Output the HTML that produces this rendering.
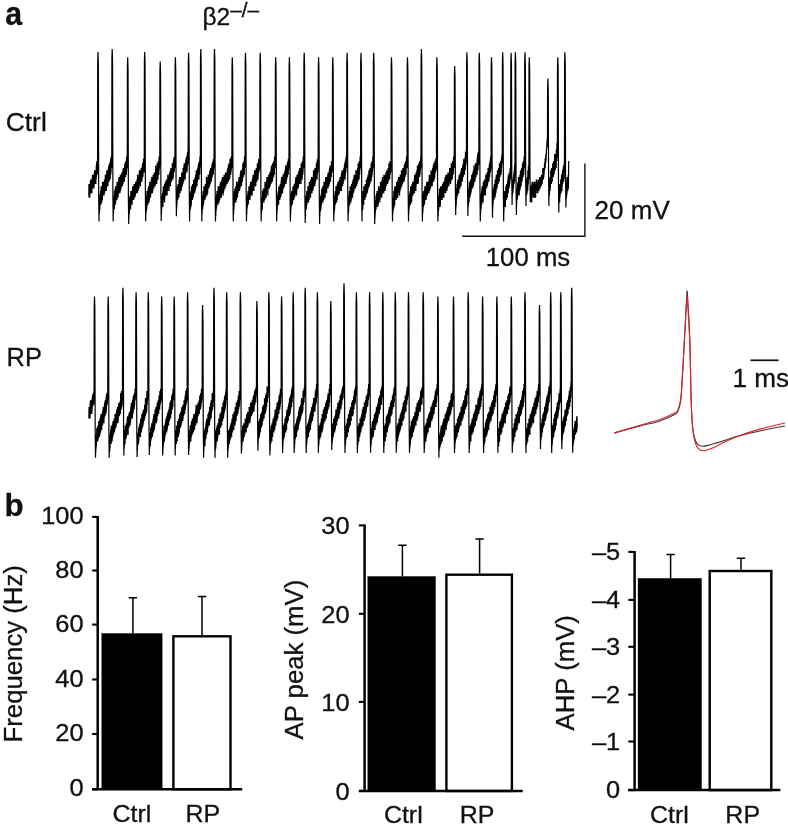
<!DOCTYPE html>
<html lang="en"><head><meta charset="utf-8"><title>Figure</title>
<style>html,body{margin:0;padding:0;background:#fff;width:788px;height:826px;overflow:hidden}svg{display:block}</style></head>
<body>
<svg width="788" height="826" viewBox="0 0 788 826" role="img" aria-label="Figure: firing traces and summary bar charts">
<rect width="788" height="826" fill="#fff"/>
<g font-family="'Liberation Sans', Arial, Helvetica, sans-serif" fill="#111" stroke="#111" stroke-width="0.3" style="filter:grayscale(1)">
<text transform="translate(5.3,25.2) scale(0.92,1.0)" font-size="33" text-anchor="start" font-weight="bold">a</text>
<text transform="translate(202.5,25.1) scale(1.065,1.0)" font-size="23" text-anchor="start">β2<tspan dy="-8.6" font-size="19.5">–/–</tspan></text>
<text transform="translate(5.7,131) scale(1.04,1.0)" font-size="25.4" text-anchor="start">Ctrl</text>
<text transform="translate(6.6,365.8) scale(1.0,1.0)" font-size="25.4" text-anchor="start">RP</text>
<text transform="translate(594.6,219) scale(1.04,1.0)" font-size="25" text-anchor="start">20 mV</text>
<text transform="translate(485.8,265.7) scale(1.03,1.0)" font-size="25" text-anchor="start">100 ms</text>
<text transform="translate(732.4,386.6) scale(1.045,1.0)" font-size="25" text-anchor="start">1 ms</text>
<text transform="translate(4.6,516.3) scale(0.95,0.94)" font-size="33" text-anchor="start" font-weight="bold">b</text>
</g>
<path d="M88.80,195.5 L88.94,184.0 L89.08,197.8 L89.22,186.3 L89.36,197.8 L89.51,186.3 L89.65,197.8 L89.79,186.3 L89.93,195.5 L90.07,184.0 L90.21,193.2 L90.35,181.7 L90.49,193.2 L90.63,179.4 L90.78,190.9 L90.92,179.4 L91.06,190.9 L91.20,179.4 L91.34,193.2 L91.48,181.7 L91.62,193.2 L91.76,181.7 L91.90,193.2 L92.05,179.4 L92.19,188.6 L92.33,177.1 L92.47,186.3 L92.61,174.8 L92.75,186.3 L92.89,174.8 L93.03,186.3 L93.17,174.8 L93.32,188.6 L93.46,177.1 L93.60,186.3 L93.74,177.1 L93.88,188.6 L94.02,174.8 L94.16,186.3 L94.30,172.5 L94.45,184.0 L94.59,170.2 L94.73,181.7 L94.87,170.2 L95.01,181.7 L95.15,170.2 L95.29,181.7 L95.43,170.2 L95.57,184.0 L95.72,170.2 L95.86,184.0 L96.00,170.2 L96.14,179.4 L96.28,165.6 L96.42,177.1 L96.56,163.3 L96.70,174.8 L96.84,161.0 L96.99,174.8 L97.13,161.0 L97.27,174.8 L97.41,163.3 L97.55,174.8 L97.70,61.9 L98.00,51.9 L98.35,63.9 L98.70,196.5 L99.00,221.5 L99.00,220.8 L99.14,209.3 L99.28,213.9 L99.42,200.1 L99.56,211.6 L99.70,197.8 L99.84,209.3 L99.98,195.5 L100.12,204.7 L100.26,193.2 L100.40,204.7 L100.54,190.9 L100.68,204.7 L100.82,190.9 L100.96,204.7 L101.10,186.3 L101.24,200.1 L101.38,186.3 L101.52,200.1 L101.66,188.6 L101.80,202.4 L101.94,188.6 L102.08,200.1 L102.22,186.3 L102.36,200.1 L102.50,181.7 L102.64,195.5 L102.78,181.7 L102.92,195.5 L103.06,181.7 L103.20,195.5 L103.34,184.0 L103.48,195.5 L103.62,184.0 L103.76,195.5 L103.90,181.7 L104.04,195.5 L104.18,181.7 L104.32,193.2 L104.46,179.4 L104.60,193.2 L104.74,179.4 L104.88,190.9 L105.02,179.4 L105.16,190.9 L105.30,174.8 L105.45,188.6 L105.59,177.1 L105.73,190.9 L105.87,177.1 L106.01,190.9 L106.15,177.1 L106.29,190.9 L106.43,174.8 L106.57,188.6 L106.71,170.2 L106.85,184.0 L106.99,170.2 L107.13,184.0 L107.27,172.5 L107.41,186.3 L107.55,172.5 L107.69,186.3 L107.83,172.5 L107.97,186.3 L108.11,170.2 L108.25,181.7 L108.39,167.9 L108.53,181.7 L108.67,165.6 L108.81,181.7 L108.95,167.9 L109.09,181.7 L109.23,167.9 L109.37,177.1 L109.51,163.3 L109.65,177.1 L109.79,165.6 L109.93,179.4 L110.07,163.3 L110.21,179.4 L110.35,161.0 L110.49,172.5 L110.63,158.7 L110.77,174.8 L110.91,158.7 L111.05,172.5 L111.19,156.4 L111.33,167.9 L111.47,158.7 L111.61,167.9 L111.75,161.0 L111.90,58.9 L112.20,48.9 L112.55,60.9 L112.90,196.5 L113.20,221.5 L113.20,220.8 L113.34,209.3 L113.48,213.9 L113.62,204.7 L113.76,209.3 L113.90,197.8 L114.04,209.3 L114.18,195.5 L114.32,209.3 L114.46,190.9 L114.61,204.7 L114.75,190.9 L114.89,202.4 L115.03,188.6 L115.17,202.4 L115.31,190.9 L115.45,204.7 L115.59,186.3 L115.73,202.4 L115.87,188.6 L116.01,200.1 L116.15,186.3 L116.29,200.1 L116.43,188.6 L116.57,200.1 L116.71,186.3 L116.85,200.1 L116.99,181.7 L117.13,195.5 L117.27,181.7 L117.42,197.8 L117.56,184.0 L117.70,197.8 L117.84,184.0 L117.98,197.8 L118.12,184.0 L118.26,195.5 L118.40,184.0 L118.54,193.2 L118.68,179.4 L118.82,193.2 L118.96,177.1 L119.10,190.9 L119.24,177.1 L119.38,190.9 L119.52,179.4 L119.66,190.9 L119.80,179.4 L119.94,193.2 L120.08,177.1 L120.22,190.9 L120.37,174.8 L120.51,190.9 L120.65,174.8 L120.79,188.6 L120.93,174.8 L121.07,188.6 L121.21,174.8 L121.35,186.3 L121.49,174.8 L121.63,184.0 L121.77,172.5 L121.91,186.3 L122.05,174.8 L122.19,186.3 L122.33,174.8 L122.47,186.3 L122.61,172.5 L122.75,184.0 L122.89,170.2 L123.03,184.0 L123.18,167.9 L123.32,181.7 L123.46,167.9 L123.60,181.7 L123.74,167.9 L123.88,181.7 L124.02,167.9 L124.16,181.7 L124.30,167.9 L124.44,181.7 L124.58,165.6 L124.72,177.1 L124.86,163.3 L125.00,177.1 L125.14,163.3 L125.28,177.1 L125.42,163.3 L125.56,177.1 L125.70,161.0 L125.84,172.5 L125.99,161.0 L126.13,174.8 L126.27,163.3 L126.41,174.8 L126.55,156.4 L126.69,170.2 L126.83,156.4 L126.97,167.9 L127.11,158.7 L127.25,167.9 L127.40,67.3 L127.70,57.3 L128.05,69.3 L128.40,199.0 L128.70,224.0 L128.70,223.1 L128.84,211.6 L128.98,218.5 L129.12,204.7 L129.26,213.9 L129.40,200.1 L129.54,211.6 L129.68,197.8 L129.82,207.0 L129.96,195.5 L130.10,209.3 L130.24,195.5 L130.38,209.3 L130.52,195.5 L130.66,209.3 L130.80,190.9 L130.94,202.4 L131.08,190.9 L131.22,202.4 L131.36,190.9 L131.50,204.7 L131.64,190.9 L131.78,204.7 L131.92,190.9 L132.06,204.7 L132.20,193.2 L132.34,200.1 L132.48,188.6 L132.62,200.1 L132.76,186.3 L132.90,200.1 L133.04,186.3 L133.18,197.8 L133.32,186.3 L133.46,200.1 L133.60,186.3 L133.74,200.1 L133.88,188.6 L134.02,197.8 L134.16,184.0 L134.30,197.8 L134.44,184.0 L134.58,195.5 L134.72,184.0 L134.86,197.8 L135.00,184.0 L135.14,195.5 L135.28,184.0 L135.42,195.5 L135.56,181.7 L135.70,193.2 L135.84,181.7 L135.98,193.2 L136.12,181.7 L136.26,193.2 L136.40,181.7 L136.55,193.2 L136.69,181.7 L136.83,193.2 L136.97,179.4 L137.11,190.9 L137.25,179.4 L137.39,193.2 L137.53,174.8 L137.67,190.9 L137.81,177.1 L137.95,188.6 L138.09,177.1 L138.23,190.9 L138.37,177.1 L138.51,188.6 L138.65,177.1 L138.79,188.6 L138.93,174.8 L139.07,188.6 L139.21,172.5 L139.35,184.0 L139.49,170.2 L139.63,184.0 L139.77,170.2 L139.91,184.0 L140.05,172.5 L140.19,184.0 L140.33,174.8 L140.47,186.3 L140.61,172.5 L140.75,181.7 L140.89,170.2 L141.03,179.4 L141.17,167.9 L141.31,179.4 L141.45,167.9 L141.59,179.4 L141.73,167.9 L141.87,181.7 L142.01,167.9 L142.15,179.4 L142.29,165.6 L142.43,177.1 L142.57,163.3 L142.71,177.1 L142.85,165.6 L142.99,177.1 L143.13,163.3 L143.27,172.5 L143.41,158.7 L143.55,172.5 L143.69,158.7 L143.83,172.5 L143.97,161.0 L144.11,172.5 L144.25,163.3 L144.40,61.9 L144.70,51.9 L145.05,63.9 L145.40,196.5 L145.70,221.5 L145.70,220.8 L145.84,209.3 L145.98,213.9 L146.12,204.7 L146.26,211.6 L146.40,197.8 L146.54,209.3 L146.68,195.5 L146.82,209.3 L146.96,190.9 L147.10,204.7 L147.25,190.9 L147.39,204.7 L147.53,190.9 L147.67,202.4 L147.81,190.9 L147.95,204.7 L148.09,188.6 L148.23,200.1 L148.37,188.6 L148.51,202.4 L148.65,186.3 L148.79,200.1 L148.93,186.3 L149.07,202.4 L149.21,186.3 L149.35,200.1 L149.49,184.0 L149.63,195.5 L149.77,181.7 L149.91,197.8 L150.06,184.0 L150.20,197.8 L150.34,186.3 L150.48,197.8 L150.62,184.0 L150.76,195.5 L150.90,184.0 L151.04,190.9 L151.18,179.4 L151.32,193.2 L151.46,179.4 L151.60,190.9 L151.74,177.1 L151.88,193.2 L152.02,179.4 L152.16,193.2 L152.30,181.7 L152.44,193.2 L152.58,177.1 L152.72,190.9 L152.87,177.1 L153.01,188.6 L153.15,174.8 L153.29,188.6 L153.43,174.8 L153.57,188.6 L153.71,174.8 L153.85,188.6 L153.99,174.8 L154.13,184.0 L154.27,172.5 L154.41,186.3 L154.55,172.5 L154.69,186.3 L154.83,172.5 L154.97,184.0 L155.11,172.5 L155.25,186.3 L155.39,172.5 L155.53,184.0 L155.68,165.6 L155.82,181.7 L155.96,167.9 L156.10,181.7 L156.24,167.9 L156.38,181.7 L156.52,170.2 L156.66,184.0 L156.80,170.2 L156.94,181.7 L157.08,163.3 L157.22,177.1 L157.36,165.6 L157.50,177.1 L157.64,163.3 L157.78,177.1 L157.92,165.6 L158.06,179.4 L158.20,161.0 L158.34,174.8 L158.49,161.0 L158.63,174.8 L158.77,161.0 L158.91,174.8 L159.05,156.4 L159.19,170.2 L159.33,156.4 L159.47,167.9 L159.61,158.7 L159.75,165.6 L159.90,71.6 L160.20,61.6 L160.55,73.6 L160.90,196.0 L161.20,221.0 L161.20,220.8 L161.34,207.0 L161.48,213.9 L161.62,202.4 L161.76,209.3 L161.90,197.8 L162.04,207.0 L162.18,195.5 L162.32,204.7 L162.46,193.2 L162.60,204.7 L162.74,193.2 L162.88,207.0 L163.02,190.9 L163.16,202.4 L163.30,186.3 L163.44,197.8 L163.59,186.3 L163.73,200.1 L163.87,186.3 L164.01,200.1 L164.15,186.3 L164.29,200.1 L164.43,186.3 L164.57,202.4 L164.71,184.0 L164.85,197.8 L164.99,184.0 L165.13,195.5 L165.27,181.7 L165.41,195.5 L165.55,181.7 L165.69,195.5 L165.83,184.0 L165.97,195.5 L166.11,184.0 L166.25,193.2 L166.39,179.4 L166.53,193.2 L166.67,181.7 L166.81,193.2 L166.95,181.7 L167.09,195.5 L167.23,179.4 L167.37,190.9 L167.51,179.4 L167.65,190.9 L167.79,174.8 L167.93,188.6 L168.07,174.8 L168.22,188.6 L168.36,177.1 L168.50,188.6 L168.64,177.1 L168.78,188.6 L168.92,177.1 L169.06,190.9 L169.20,177.1 L169.34,184.0 L169.48,172.5 L169.62,184.0 L169.76,172.5 L169.90,184.0 L170.04,172.5 L170.18,186.3 L170.32,170.2 L170.46,186.3 L170.60,172.5 L170.74,181.7 L170.88,167.9 L171.02,181.7 L171.16,167.9 L171.30,179.4 L171.44,167.9 L171.58,181.7 L171.72,167.9 L171.86,179.4 L172.00,167.9 L172.14,179.4 L172.28,163.3 L172.42,177.1 L172.56,165.6 L172.71,179.4 L172.85,165.6 L172.99,179.4 L173.13,163.3 L173.27,177.1 L173.41,161.0 L173.55,172.5 L173.69,158.7 L173.83,172.5 L173.97,161.0 L174.11,172.5 L174.25,156.4 L174.39,170.2 L174.53,158.7 L174.67,167.9 L174.81,158.7 L174.95,167.9 L175.10,67.3 L175.40,57.3 L175.75,69.3 L176.10,191.0 L176.40,216.0 L176.40,216.2 L176.54,202.4 L176.68,209.3 L176.82,195.5 L176.97,204.7 L177.11,193.2 L177.25,200.1 L177.39,186.3 L177.53,200.1 L177.67,186.3 L177.82,200.1 L177.96,184.0 L178.10,195.5 L178.24,184.0 L178.38,197.8 L178.52,184.0 L178.67,197.8 L178.81,184.0 L178.95,197.8 L179.09,179.4 L179.23,193.2 L179.37,181.7 L179.51,193.2 L179.66,177.1 L179.80,190.9 L179.94,179.4 L180.08,193.2 L180.22,177.1 L180.36,190.9 L180.51,177.1 L180.65,188.6 L180.79,177.1 L180.93,188.6 L181.07,177.1 L181.21,190.9 L181.35,177.1 L181.50,188.6 L181.64,172.5 L181.78,184.0 L181.92,172.5 L182.06,184.0 L182.20,172.5 L182.35,186.3 L182.49,172.5 L182.63,184.0 L182.77,172.5 L182.91,184.0 L183.05,167.9 L183.20,181.7 L183.34,167.9 L183.48,181.7 L183.62,167.9 L183.76,181.7 L183.90,165.6 L184.04,179.4 L184.19,163.3 L184.33,174.8 L184.47,165.6 L184.61,179.4 L184.75,163.3 L184.89,179.4 L185.04,165.6 L185.18,179.4 L185.32,163.3 L185.46,174.8 L185.60,161.0 L185.74,172.5 L185.88,158.7 L186.03,172.5 L186.17,161.0 L186.31,172.5 L186.45,156.4 L186.59,170.2 L186.73,158.7 L186.88,172.5 L187.02,158.7 L187.16,170.2 L187.30,154.1 L187.44,165.6 L187.58,151.8 L187.73,165.6 L187.87,154.1 L188.01,163.3 L188.15,154.1 L188.30,62.7 L188.60,52.7 L188.95,64.7 L189.30,196.5 L189.60,221.5 L189.60,220.8 L189.74,207.0 L189.88,211.6 L190.02,197.8 L190.17,207.0 L190.31,193.2 L190.45,209.3 L190.59,193.2 L190.73,204.7 L190.87,190.9 L191.01,207.0 L191.16,190.9 L191.30,204.7 L191.44,186.3 L191.58,197.8 L191.72,188.6 L191.86,197.8 L192.00,186.3 L192.15,200.1 L192.29,186.3 L192.43,200.1 L192.57,184.0 L192.71,195.5 L192.85,184.0 L192.99,197.8 L193.14,184.0 L193.28,197.8 L193.42,184.0 L193.56,195.5 L193.70,179.4 L193.84,193.2 L193.98,179.4 L194.13,190.9 L194.27,179.4 L194.41,193.2 L194.55,179.4 L194.69,193.2 L194.83,181.7 L194.98,190.9 L195.12,177.1 L195.26,190.9 L195.40,177.1 L195.54,188.6 L195.68,174.8 L195.82,188.6 L195.97,174.8 L196.11,184.0 L196.25,170.2 L196.39,184.0 L196.53,170.2 L196.67,186.3 L196.81,172.5 L196.96,186.3 L197.10,172.5 L197.24,181.7 L197.38,170.2 L197.52,181.7 L197.66,167.9 L197.80,179.4 L197.95,167.9 L198.09,179.4 L198.23,165.6 L198.37,177.1 L198.51,163.3 L198.65,177.1 L198.79,163.3 L198.94,179.4 L199.08,165.6 L199.22,174.8 L199.36,161.0 L199.50,174.8 L199.64,161.0 L199.78,174.8 L199.93,156.4 L200.07,167.9 L200.21,156.4 L200.35,165.6 L200.50,58.9 L200.80,48.9 L201.15,60.9 L201.50,196.5 L201.80,221.5 L201.80,220.8 L201.94,209.3 L202.08,213.9 L202.22,200.1 L202.36,209.3 L202.50,195.5 L202.64,209.3 L202.79,195.5 L202.93,207.0 L203.07,190.9 L203.21,204.7 L203.35,190.9 L203.49,204.7 L203.63,190.9 L203.77,202.4 L203.91,186.3 L204.05,197.8 L204.19,186.3 L204.33,197.8 L204.48,186.3 L204.62,200.1 L204.76,188.6 L204.90,200.1 L205.04,188.6 L205.18,197.8 L205.32,184.0 L205.46,197.8 L205.60,184.0 L205.74,197.8 L205.88,184.0 L206.02,195.5 L206.16,184.0 L206.31,195.5 L206.45,177.1 L206.59,193.2 L206.73,179.4 L206.87,193.2 L207.01,179.4 L207.15,195.5 L207.29,179.4 L207.43,193.2 L207.57,179.4 L207.71,193.2 L207.85,177.1 L208.00,186.3 L208.14,174.8 L208.28,186.3 L208.42,174.8 L208.56,188.6 L208.70,174.8 L208.84,188.6 L208.98,174.8 L209.12,186.3 L209.26,174.8 L209.40,186.3 L209.54,172.5 L209.69,186.3 L209.83,170.2 L209.97,184.0 L210.11,172.5 L210.25,184.0 L210.39,170.2 L210.53,179.4 L210.67,167.9 L210.81,181.7 L210.95,170.2 L211.09,181.7 L211.23,170.2 L211.37,181.7 L211.52,167.9 L211.66,179.4 L211.80,165.6 L211.94,177.1 L212.08,163.3 L212.22,177.1 L212.36,163.3 L212.50,174.8 L212.64,165.6 L212.78,174.8 L212.92,161.0 L213.06,174.8 L213.21,161.0 L213.35,174.8 L213.49,158.7 L213.63,170.2 L213.77,158.7 L213.91,167.9 L214.05,158.7 L214.20,58.9 L214.50,48.9 L214.85,60.9 L215.20,196.5 L215.50,221.5 L215.50,220.8 L215.64,209.3 L215.78,216.2 L215.92,204.7 L216.06,211.6 L216.20,197.8 L216.35,209.3 L216.49,195.5 L216.63,207.0 L216.77,193.2 L216.91,204.7 L217.05,190.9 L217.19,204.7 L217.33,193.2 L217.47,204.7 L217.61,193.2 L217.76,204.7 L217.90,190.9 L218.04,204.7 L218.18,186.3 L218.32,197.8 L218.46,186.3 L218.60,200.1 L218.74,186.3 L218.88,200.1 L219.02,186.3 L219.16,202.4 L219.31,188.6 L219.45,200.1 L219.59,188.6 L219.73,200.1 L219.87,188.6 L220.01,197.8 L220.15,184.0 L220.29,195.5 L220.43,181.7 L220.57,195.5 L220.72,181.7 L220.86,195.5 L221.00,184.0 L221.14,197.8 L221.28,184.0 L221.42,197.8 L221.56,184.0 L221.70,193.2 L221.84,179.4 L221.98,193.2 L222.12,179.4 L222.27,190.9 L222.41,177.1 L222.55,190.9 L222.69,179.4 L222.83,193.2 L222.97,177.1 L223.11,195.5 L223.25,179.4 L223.39,193.2 L223.53,177.1 L223.68,190.9 L223.82,177.1 L223.96,190.9 L224.10,174.8 L224.24,186.3 L224.38,174.8 L224.52,186.3 L224.66,174.8 L224.80,188.6 L224.94,174.8 L225.08,188.6 L225.23,177.1 L225.37,186.3 L225.51,172.5 L225.65,186.3 L225.79,172.5 L225.93,186.3 L226.07,172.5 L226.21,184.0 L226.35,172.5 L226.49,184.0 L226.63,172.5 L226.78,184.0 L226.92,172.5 L227.06,184.0 L227.20,170.2 L227.34,181.7 L227.48,170.2 L227.62,181.7 L227.76,167.9 L227.90,181.7 L228.04,170.2 L228.19,179.4 L228.33,165.6 L228.47,181.7 L228.61,167.9 L228.75,177.1 L228.89,163.3 L229.03,177.1 L229.17,163.3 L229.31,177.1 L229.45,165.6 L229.59,179.4 L229.74,165.6 L229.88,177.1 L230.02,158.7 L230.16,172.5 L230.30,158.7 L230.44,174.8 L230.58,161.0 L230.72,174.8 L230.86,161.0 L231.00,172.5 L231.15,156.4 L231.29,170.2 L231.43,158.7 L231.57,167.9 L231.71,161.0 L231.85,167.9 L232.00,67.3 L232.30,57.3 L232.65,69.3 L233.00,196.5 L233.30,221.5 L233.30,220.8 L233.44,209.3 L233.58,213.9 L233.72,202.4 L233.87,209.3 L234.01,195.5 L234.15,207.0 L234.29,190.9 L234.43,202.4 L234.57,190.9 L234.72,202.4 L234.86,188.6 L235.00,202.4 L235.14,193.2 L235.28,200.1 L235.42,188.6 L235.57,202.4 L235.71,186.3 L235.85,202.4 L235.99,188.6 L236.13,200.1 L236.27,188.6 L236.41,200.1 L236.56,181.7 L236.70,195.5 L236.84,184.0 L236.98,195.5 L237.12,184.0 L237.26,195.5 L237.41,186.3 L237.55,197.8 L237.69,184.0 L237.83,193.2 L237.97,181.7 L238.11,193.2 L238.25,181.7 L238.40,190.9 L238.54,179.4 L238.68,190.9 L238.82,179.4 L238.96,190.9 L239.10,177.1 L239.25,188.6 L239.39,177.1 L239.53,190.9 L239.67,177.1 L239.81,188.6 L239.95,177.1 L240.10,188.6 L240.24,174.8 L240.38,184.0 L240.52,172.5 L240.66,184.0 L240.80,170.2 L240.94,186.3 L241.09,170.2 L241.23,186.3 L241.37,170.2 L241.51,186.3 L241.65,170.2 L241.79,181.7 L241.94,170.2 L242.08,181.7 L242.22,170.2 L242.36,181.7 L242.50,167.9 L242.64,179.4 L242.78,163.3 L242.93,177.1 L243.07,165.6 L243.21,177.1 L243.35,165.6 L243.49,177.1 L243.63,165.6 L243.78,174.8 L243.92,161.0 L244.06,174.8 L244.20,161.0 L244.34,174.8 L244.48,156.4 L244.63,167.9 L244.77,156.4 L244.91,167.9 L245.05,158.7 L245.20,62.7 L245.50,52.7 L245.85,64.7 L246.20,196.5 L246.50,221.5 L246.50,220.8 L246.64,207.0 L246.78,213.9 L246.92,202.4 L247.06,209.3 L247.20,197.8 L247.35,207.0 L247.49,195.5 L247.63,204.7 L247.77,193.2 L247.91,204.7 L248.05,190.9 L248.19,204.7 L248.33,190.9 L248.47,202.4 L248.61,190.9 L248.76,200.1 L248.90,186.3 L249.04,200.1 L249.18,186.3 L249.32,200.1 L249.46,188.6 L249.60,200.1 L249.74,188.6 L249.88,200.1 L250.02,188.6 L250.16,197.8 L250.31,184.0 L250.45,195.5 L250.59,181.7 L250.73,195.5 L250.87,181.7 L251.01,195.5 L251.15,181.7 L251.29,195.5 L251.43,184.0 L251.57,193.2 L251.72,181.7 L251.86,193.2 L252.00,181.7 L252.14,195.5 L252.28,179.4 L252.42,190.9 L252.56,179.4 L252.70,190.9 L252.84,177.1 L252.98,188.6 L253.12,174.8 L253.27,188.6 L253.41,174.8 L253.55,190.9 L253.69,177.1 L253.83,190.9 L253.97,177.1 L254.11,188.6 L254.25,177.1 L254.39,186.3 L254.53,170.2 L254.68,184.0 L254.82,170.2 L254.96,184.0 L255.10,170.2 L255.24,184.0 L255.38,172.5 L255.52,186.3 L255.66,172.5 L255.80,186.3 L255.94,170.2 L256.09,181.7 L256.23,167.9 L256.37,179.4 L256.51,167.9 L256.65,181.7 L256.79,167.9 L256.93,181.7 L257.07,167.9 L257.21,177.1 L257.35,163.3 L257.49,179.4 L257.64,165.6 L257.78,179.4 L257.92,165.6 L258.06,179.4 L258.20,165.6 L258.34,174.8 L258.48,161.0 L258.62,172.5 L258.76,158.7 L258.90,172.5 L259.05,161.0 L259.19,170.2 L259.33,158.7 L259.47,170.2 L259.61,161.0 L259.75,167.9 L259.90,62.7 L260.20,52.7 L260.55,64.7 L260.90,196.5 L261.20,221.5 L261.20,220.8 L261.34,209.3 L261.48,213.9 L261.62,202.4 L261.76,211.6 L261.90,197.8 L262.04,209.3 L262.18,197.8 L262.32,209.3 L262.46,190.9 L262.61,202.4 L262.75,190.9 L262.89,202.4 L263.03,190.9 L263.17,202.4 L263.31,188.6 L263.45,202.4 L263.59,188.6 L263.73,200.1 L263.87,188.6 L264.01,202.4 L264.15,188.6 L264.29,200.1 L264.43,188.6 L264.57,200.1 L264.71,188.6 L264.85,200.1 L264.99,181.7 L265.13,195.5 L265.27,181.7 L265.41,197.8 L265.56,184.0 L265.70,197.8 L265.84,184.0 L265.98,197.8 L266.12,184.0 L266.26,197.8 L266.40,184.0 L266.54,193.2 L266.68,179.4 L266.82,193.2 L266.96,177.1 L267.10,190.9 L267.24,179.4 L267.38,190.9 L267.52,179.4 L267.66,193.2 L267.80,181.7 L267.94,195.5 L268.08,177.1 L268.23,188.6 L268.37,177.1 L268.51,188.6 L268.65,174.8 L268.79,186.3 L268.93,174.8 L269.07,188.6 L269.21,174.8 L269.35,188.6 L269.49,174.8 L269.63,186.3 L269.77,172.5 L269.91,186.3 L270.05,172.5 L270.19,186.3 L270.33,172.5 L270.47,184.0 L270.61,172.5 L270.75,184.0 L270.89,170.2 L271.03,184.0 L271.18,167.9 L271.32,179.4 L271.46,165.6 L271.60,181.7 L271.74,167.9 L271.88,181.7 L272.02,170.2 L272.16,181.7 L272.30,167.9 L272.44,181.7 L272.58,163.3 L272.72,179.4 L272.86,165.6 L273.00,177.1 L273.14,163.3 L273.28,177.1 L273.42,165.6 L273.56,177.1 L273.70,161.0 L273.85,174.8 L273.99,161.0 L274.13,174.8 L274.27,163.3 L274.41,174.8 L274.55,156.4 L274.69,167.9 L274.83,156.4 L274.97,167.9 L275.11,158.7 L275.25,165.6 L275.40,67.3 L275.70,57.3 L276.05,69.3 L276.40,196.5 L276.70,221.5 L276.70,220.8 L276.84,209.3 L276.98,213.9 L277.12,200.1 L277.26,209.3 L277.40,195.5 L277.54,207.0 L277.69,195.5 L277.83,204.7 L277.97,193.2 L278.11,204.7 L278.25,190.9 L278.39,204.7 L278.53,193.2 L278.67,204.7 L278.81,186.3 L278.95,197.8 L279.09,186.3 L279.23,200.1 L279.38,186.3 L279.52,200.1 L279.66,186.3 L279.80,200.1 L279.94,188.6 L280.08,197.8 L280.22,184.0 L280.36,197.8 L280.50,184.0 L280.64,197.8 L280.78,184.0 L280.92,195.5 L281.06,181.7 L281.21,195.5 L281.35,179.4 L281.49,193.2 L281.63,177.1 L281.77,193.2 L281.91,179.4 L282.05,193.2 L282.19,179.4 L282.33,193.2 L282.47,181.7 L282.61,193.2 L282.75,177.1 L282.90,188.6 L283.04,174.8 L283.18,188.6 L283.32,174.8 L283.46,186.3 L283.60,177.1 L283.74,188.6 L283.88,174.8 L284.02,184.0 L284.16,172.5 L284.30,186.3 L284.44,174.8 L284.59,186.3 L284.73,172.5 L284.87,184.0 L285.01,170.2 L285.15,184.0 L285.29,170.2 L285.43,179.4 L285.57,165.6 L285.71,179.4 L285.85,167.9 L285.99,184.0 L286.13,167.9 L286.27,181.7 L286.42,170.2 L286.56,177.1 L286.70,165.6 L286.84,179.4 L286.98,165.6 L287.12,174.8 L287.26,163.3 L287.40,177.1 L287.54,163.3 L287.68,172.5 L287.82,161.0 L287.96,174.8 L288.11,161.0 L288.25,174.8 L288.39,158.7 L288.53,170.2 L288.67,158.7 L288.81,167.9 L288.95,158.7 L289.10,67.3 L289.40,57.3 L289.75,69.3 L290.10,196.5 L290.40,221.5 L290.40,220.8 L290.54,209.3 L290.68,213.9 L290.82,202.4 L290.96,209.3 L291.10,195.5 L291.24,207.0 L291.38,193.2 L291.52,202.4 L291.66,190.9 L291.81,204.7 L291.95,190.9 L292.09,204.7 L292.23,190.9 L292.37,204.7 L292.51,193.2 L292.65,202.4 L292.79,188.6 L292.93,200.1 L293.07,186.3 L293.21,200.1 L293.35,186.3 L293.49,197.8 L293.63,186.3 L293.77,200.1 L293.91,186.3 L294.05,197.8 L294.19,184.0 L294.33,197.8 L294.48,184.0 L294.62,197.8 L294.76,184.0 L294.90,195.5 L295.04,184.0 L295.18,195.5 L295.32,181.7 L295.46,190.9 L295.60,179.4 L295.74,193.2 L295.88,177.1 L296.02,193.2 L296.16,179.4 L296.30,193.2 L296.44,181.7 L296.58,195.5 L296.72,181.7 L296.86,190.9 L297.00,174.8 L297.15,188.6 L297.29,174.8 L297.43,188.6 L297.57,174.8 L297.71,186.3 L297.85,174.8 L297.99,188.6 L298.13,174.8 L298.27,188.6 L298.41,172.5 L298.55,186.3 L298.69,174.8 L298.83,184.0 L298.97,170.2 L299.11,184.0 L299.25,170.2 L299.39,184.0 L299.53,172.5 L299.67,184.0 L299.82,167.9 L299.96,179.4 L300.10,167.9 L300.24,181.7 L300.38,170.2 L300.52,181.7 L300.66,170.2 L300.80,181.7 L300.94,170.2 L301.08,184.0 L301.22,163.3 L301.36,177.1 L301.50,163.3 L301.64,177.1 L301.78,163.3 L301.92,177.1 L302.06,165.6 L302.20,179.4 L302.34,161.0 L302.49,174.8 L302.63,161.0 L302.77,174.8 L302.91,161.0 L303.05,172.5 L303.19,156.4 L303.33,167.9 L303.47,158.7 L303.61,167.9 L303.75,158.7 L303.90,62.7 L304.20,52.7 L304.55,64.7 L304.90,198.0 L305.20,223.0 L305.20,220.8 L305.34,211.6 L305.48,216.2 L305.62,202.4 L305.76,209.3 L305.90,197.8 L306.04,207.0 L306.19,195.5 L306.33,209.3 L306.47,195.5 L306.61,204.7 L306.75,190.9 L306.89,204.7 L307.03,190.9 L307.17,202.4 L307.31,190.9 L307.45,202.4 L307.59,190.9 L307.73,202.4 L307.87,186.3 L308.02,200.1 L308.16,188.6 L308.30,202.4 L308.44,188.6 L308.58,202.4 L308.72,188.6 L308.86,200.1 L309.00,186.3 L309.14,200.1 L309.28,181.7 L309.42,195.5 L309.56,184.0 L309.70,195.5 L309.85,181.7 L309.99,195.5 L310.13,184.0 L310.27,195.5 L310.41,184.0 L310.55,197.8 L310.69,179.4 L310.83,193.2 L310.97,179.4 L311.11,190.9 L311.25,179.4 L311.39,190.9 L311.53,177.1 L311.68,190.9 L311.82,179.4 L311.96,193.2 L312.10,177.1 L312.24,190.9 L312.38,177.1 L312.52,190.9 L312.66,177.1 L312.80,190.9 L312.94,177.1 L313.08,188.6 L313.22,177.1 L313.36,188.6 L313.50,170.2 L313.65,184.0 L313.79,170.2 L313.93,184.0 L314.07,170.2 L314.21,184.0 L314.35,174.8 L314.49,186.3 L314.63,172.5 L314.77,186.3 L314.91,167.9 L315.05,184.0 L315.19,167.9 L315.33,181.7 L315.48,167.9 L315.62,181.7 L315.76,167.9 L315.90,179.4 L316.04,167.9 L316.18,177.1 L316.32,163.3 L316.46,179.4 L316.60,165.6 L316.74,179.4 L316.88,165.6 L317.02,179.4 L317.16,161.0 L317.31,174.8 L317.45,158.7 L317.59,172.5 L317.73,158.7 L317.87,172.5 L318.01,161.0 L318.15,167.9 L318.30,67.3 L318.60,57.3 L318.95,69.3 L319.30,199.0 L319.60,224.0 L319.60,223.1 L319.74,211.6 L319.88,216.2 L320.02,202.4 L320.16,211.6 L320.30,200.1 L320.44,211.6 L320.58,195.5 L320.72,209.3 L320.86,197.8 L321.00,209.3 L321.14,195.5 L321.28,204.7 L321.42,193.2 L321.56,204.7 L321.70,188.6 L321.84,202.4 L321.98,190.9 L322.12,202.4 L322.26,190.9 L322.40,202.4 L322.54,193.2 L322.68,200.1 L322.82,186.3 L322.96,202.4 L323.10,188.6 L323.24,200.1 L323.38,186.3 L323.52,200.1 L323.66,186.3 L323.80,200.1 L323.94,181.7 L324.08,197.8 L324.22,181.7 L324.36,195.5 L324.50,184.0 L324.64,197.8 L324.78,184.0 L324.92,195.5 L325.06,184.0 L325.20,197.8 L325.34,181.7 L325.48,190.9 L325.62,177.1 L325.76,190.9 L325.90,179.4 L326.05,190.9 L326.19,177.1 L326.33,193.2 L326.47,179.4 L326.61,193.2 L326.75,177.1 L326.89,188.6 L327.03,177.1 L327.17,188.6 L327.31,177.1 L327.45,188.6 L327.59,174.8 L327.73,188.6 L327.87,174.8 L328.01,188.6 L328.15,172.5 L328.29,184.0 L328.43,172.5 L328.57,184.0 L328.71,172.5 L328.85,186.3 L328.99,172.5 L329.13,184.0 L329.27,170.2 L329.41,184.0 L329.55,167.9 L329.69,179.4 L329.83,167.9 L329.97,179.4 L330.11,165.6 L330.25,181.7 L330.39,167.9 L330.53,181.7 L330.67,165.6 L330.81,177.1 L330.95,165.6 L331.09,177.1 L331.23,165.6 L331.37,177.1 L331.51,161.0 L331.65,172.5 L331.79,161.0 L331.93,172.5 L332.07,161.0 L332.21,172.5 L332.35,163.3 L332.50,67.3 L332.80,57.3 L333.15,69.3 L333.50,196.5 L333.80,221.5 L333.80,220.8 L333.94,209.3 L334.08,213.9 L334.22,202.4 L334.36,211.6 L334.51,197.8 L334.65,209.3 L334.79,195.5 L334.93,204.7 L335.07,193.2 L335.21,204.7 L335.35,190.9 L335.49,204.7 L335.64,190.9 L335.78,202.4 L335.92,186.3 L336.06,200.1 L336.20,186.3 L336.34,200.1 L336.48,188.6 L336.62,202.4 L336.77,186.3 L336.91,200.1 L337.05,188.6 L337.19,200.1 L337.33,184.0 L337.47,195.5 L337.61,184.0 L337.75,195.5 L337.90,181.7 L338.04,195.5 L338.18,184.0 L338.32,195.5 L338.46,181.7 L338.60,195.5 L338.74,181.7 L338.88,193.2 L339.02,181.7 L339.17,193.2 L339.31,179.4 L339.45,193.2 L339.59,179.4 L339.73,190.9 L339.87,179.4 L340.01,190.9 L340.15,177.1 L340.30,188.6 L340.44,177.1 L340.58,188.6 L340.72,177.1 L340.86,190.9 L341.00,177.1 L341.14,190.9 L341.28,174.8 L341.43,190.9 L341.57,172.5 L341.71,184.0 L341.85,172.5 L341.99,184.0 L342.13,170.2 L342.27,184.0 L342.41,170.2 L342.55,186.3 L342.70,174.8 L342.84,184.0 L342.98,170.2 L343.12,184.0 L343.26,170.2 L343.40,181.7 L343.54,170.2 L343.68,181.7 L343.83,167.9 L343.97,179.4 L344.11,167.9 L344.25,177.1 L344.39,165.6 L344.53,177.1 L344.67,163.3 L344.81,177.1 L344.96,165.6 L345.10,179.4 L345.24,161.0 L345.38,174.8 L345.52,161.0 L345.66,172.5 L345.80,158.7 L345.94,172.5 L346.09,156.4 L346.23,167.9 L346.37,158.7 L346.51,167.9 L346.65,158.7 L346.80,62.7 L347.10,52.7 L347.45,64.7 L347.80,196.5 L348.10,221.5 L348.10,220.8 L348.24,207.0 L348.38,213.9 L348.52,202.4 L348.67,211.6 L348.81,195.5 L348.95,207.0 L349.09,195.5 L349.23,204.7 L349.37,190.9 L349.51,202.4 L349.66,190.9 L349.80,204.7 L349.94,190.9 L350.08,202.4 L350.22,186.3 L350.36,200.1 L350.51,186.3 L350.65,200.1 L350.79,186.3 L350.93,202.4 L351.07,188.6 L351.21,200.1 L351.35,188.6 L351.50,197.8 L351.64,184.0 L351.78,195.5 L351.92,184.0 L352.06,195.5 L352.20,184.0 L352.34,195.5 L352.49,181.7 L352.63,197.8 L352.77,184.0 L352.91,193.2 L353.05,179.4 L353.19,193.2 L353.33,181.7 L353.48,193.2 L353.62,181.7 L353.76,190.9 L353.90,177.1 L354.04,190.9 L354.18,174.8 L354.33,186.3 L354.47,174.8 L354.61,188.6 L354.75,177.1 L354.89,188.6 L355.03,177.1 L355.17,188.6 L355.32,177.1 L355.46,188.6 L355.60,174.8 L355.74,184.0 L355.88,170.2 L356.02,184.0 L356.16,170.2 L356.31,184.0 L356.45,170.2 L356.59,186.3 L356.73,170.2 L356.87,181.7 L357.01,170.2 L357.15,184.0 L357.30,170.2 L357.44,181.7 L357.58,167.9 L357.72,181.7 L357.86,167.9 L358.00,181.7 L358.14,163.3 L358.29,177.1 L358.43,165.6 L358.57,177.1 L358.71,163.3 L358.85,177.1 L358.99,165.6 L359.14,179.4 L359.28,161.0 L359.42,174.8 L359.56,161.0 L359.70,174.8 L359.84,161.0 L359.98,170.2 L360.13,156.4 L360.27,167.9 L360.41,158.7 L360.55,167.9 L360.70,62.7 L361.00,52.7 L361.35,64.7 L361.70,196.5 L362.00,221.5 L362.00,220.8 L362.14,207.0 L362.28,211.6 L362.42,200.1 L362.56,207.0 L362.70,195.5 L362.84,209.3 L362.98,190.9 L363.12,204.7 L363.27,190.9 L363.41,204.7 L363.55,193.2 L363.69,204.7 L363.83,186.3 L363.97,200.1 L364.11,186.3 L364.25,197.8 L364.39,186.3 L364.53,197.8 L364.67,186.3 L364.81,200.1 L364.95,186.3 L365.09,197.8 L365.23,184.0 L365.38,197.8 L365.52,184.0 L365.66,197.8 L365.80,184.0 L365.94,195.5 L366.08,184.0 L366.22,195.5 L366.36,179.4 L366.50,193.2 L366.64,179.4 L366.78,193.2 L366.92,179.4 L367.06,193.2 L367.20,181.7 L367.34,193.2 L367.48,177.1 L367.62,190.9 L367.77,177.1 L367.91,188.6 L368.05,174.8 L368.19,186.3 L368.33,174.8 L368.47,188.6 L368.61,174.8 L368.75,186.3 L368.89,170.2 L369.03,184.0 L369.17,172.5 L369.31,186.3 L369.45,172.5 L369.59,184.0 L369.73,172.5 L369.88,184.0 L370.02,167.9 L370.16,181.7 L370.30,167.9 L370.44,179.4 L370.58,167.9 L370.72,179.4 L370.86,170.2 L371.00,181.7 L371.14,163.3 L371.28,179.4 L371.42,165.6 L371.56,177.1 L371.70,165.6 L371.84,177.1 L371.98,161.0 L372.12,174.8 L372.27,161.0 L372.41,172.5 L372.55,161.0 L372.69,170.2 L372.83,156.4 L372.97,167.9 L373.11,158.7 L373.25,167.9 L373.40,62.7 L373.70,52.7 L374.05,64.7 L374.40,199.0 L374.70,224.0 L374.70,223.1 L374.84,211.6 L374.98,218.5 L375.12,207.0 L375.26,213.9 L375.40,202.4 L375.55,211.6 L375.69,200.1 L375.83,209.3 L375.97,195.5 L376.11,209.3 L376.25,195.5 L376.39,207.0 L376.53,193.2 L376.67,207.0 L376.81,193.2 L376.96,204.7 L377.10,190.9 L377.24,204.7 L377.38,193.2 L377.52,207.0 L377.66,190.9 L377.80,207.0 L377.94,190.9 L378.08,204.7 L378.22,190.9 L378.36,204.7 L378.51,186.3 L378.65,197.8 L378.79,186.3 L378.93,200.1 L379.07,188.6 L379.21,200.1 L379.35,188.6 L379.49,200.1 L379.63,188.6 L379.77,202.4 L379.92,188.6 L380.06,200.1 L380.20,186.3 L380.34,195.5 L380.48,181.7 L380.62,195.5 L380.76,181.7 L380.90,195.5 L381.04,184.0 L381.18,195.5 L381.32,184.0 L381.47,197.8 L381.61,184.0 L381.75,197.8 L381.89,181.7 L382.03,195.5 L382.17,179.4 L382.31,190.9 L382.45,177.1 L382.59,190.9 L382.73,179.4 L382.88,190.9 L383.02,179.4 L383.16,193.2 L383.30,179.4 L383.44,193.2 L383.58,179.4 L383.72,193.2 L383.86,174.8 L384.00,190.9 L384.14,177.1 L384.28,188.6 L384.43,174.8 L384.57,188.6 L384.71,174.8 L384.85,186.3 L384.99,174.8 L385.13,190.9 L385.27,174.8 L385.41,188.6 L385.55,177.1 L385.69,186.3 L385.83,172.5 L385.98,186.3 L386.12,172.5 L386.26,186.3 L386.40,172.5 L386.54,184.0 L386.68,170.2 L386.82,184.0 L386.96,172.5 L387.10,184.0 L387.24,172.5 L387.39,181.7 L387.53,170.2 L387.67,184.0 L387.81,170.2 L387.95,181.7 L388.09,167.9 L388.23,181.7 L388.37,167.9 L388.51,179.4 L388.65,167.9 L388.79,177.1 L388.94,163.3 L389.08,177.1 L389.22,163.3 L389.36,177.1 L389.50,165.6 L389.64,179.4 L389.78,165.6 L389.92,174.8 L390.06,161.0 L390.20,174.8 L390.35,161.0 L390.49,172.5 L390.63,161.0 L390.77,172.5 L390.91,161.0 L391.05,170.2 L391.20,67.3 L391.50,57.3 L391.85,69.3 L392.20,196.5 L392.50,221.5 L392.50,220.8 L392.64,209.3 L392.78,213.9 L392.92,202.4 L393.07,211.6 L393.21,197.8 L393.35,207.0 L393.49,197.8 L393.63,209.3 L393.77,190.9 L393.91,204.7 L394.05,190.9 L394.20,207.0 L394.34,190.9 L394.48,204.7 L394.62,188.6 L394.76,204.7 L394.90,186.3 L395.04,200.1 L395.18,188.6 L395.33,200.1 L395.47,186.3 L395.61,200.1 L395.75,188.6 L395.89,200.1 L396.03,188.6 L396.17,200.1 L396.31,186.3 L396.46,195.5 L396.60,181.7 L396.74,195.5 L396.88,181.7 L397.02,193.2 L397.16,184.0 L397.30,197.8 L397.44,184.0 L397.59,197.8 L397.73,184.0 L397.87,197.8 L398.01,179.4 L398.15,190.9 L398.29,179.4 L398.43,193.2 L398.57,177.1 L398.72,193.2 L398.86,179.4 L399.00,190.9 L399.14,179.4 L399.28,193.2 L399.42,179.4 L399.56,195.5 L399.70,177.1 L399.85,188.6 L399.99,177.1 L400.13,190.9 L400.27,174.8 L400.41,188.6 L400.55,174.8 L400.69,188.6 L400.83,174.8 L400.98,188.6 L401.12,174.8 L401.26,186.3 L401.40,170.2 L401.54,186.3 L401.68,172.5 L401.82,186.3 L401.96,172.5 L402.11,184.0 L402.25,172.5 L402.39,184.0 L402.53,170.2 L402.67,184.0 L402.81,167.9 L402.95,179.4 L403.09,167.9 L403.24,181.7 L403.38,167.9 L403.52,181.7 L403.66,170.2 L403.80,181.7 L403.94,170.2 L404.08,181.7 L404.22,165.6 L404.37,179.4 L404.51,165.6 L404.65,177.1 L404.79,163.3 L404.93,174.8 L405.07,163.3 L405.21,177.1 L405.35,165.6 L405.50,174.8 L405.64,161.0 L405.78,174.8 L405.92,163.3 L406.06,174.8 L406.20,163.3 L406.34,167.9 L406.48,156.4 L406.63,167.9 L406.77,158.7 L406.91,167.9 L407.05,158.7 L407.20,67.3 L407.50,57.3 L407.85,69.3 L408.20,196.5 L408.50,221.5 L408.50,220.8 L408.64,207.0 L408.78,213.9 L408.92,202.4 L409.07,209.3 L409.21,195.5 L409.35,207.0 L409.49,195.5 L409.63,204.7 L409.77,193.2 L409.91,204.7 L410.06,190.9 L410.20,204.7 L410.34,193.2 L410.48,204.7 L410.62,186.3 L410.76,200.1 L410.91,186.3 L411.05,197.8 L411.19,186.3 L411.33,200.1 L411.47,188.6 L411.61,202.4 L411.75,188.6 L411.90,197.8 L412.04,184.0 L412.18,195.5 L412.32,184.0 L412.46,195.5 L412.60,181.7 L412.74,195.5 L412.89,184.0 L413.03,195.5 L413.17,184.0 L413.31,190.9 L413.45,181.7 L413.59,193.2 L413.73,181.7 L413.88,193.2 L414.02,181.7 L414.16,193.2 L414.30,179.4 L414.44,193.2 L414.58,174.8 L414.73,188.6 L414.87,174.8 L415.01,186.3 L415.15,174.8 L415.29,186.3 L415.43,174.8 L415.57,190.9 L415.72,174.8 L415.86,190.9 L416.00,172.5 L416.14,186.3 L416.28,172.5 L416.42,184.0 L416.56,172.5 L416.71,184.0 L416.85,170.2 L416.99,184.0 L417.13,170.2 L417.27,179.4 L417.41,165.6 L417.55,181.7 L417.70,170.2 L417.84,181.7 L417.98,170.2 L418.12,184.0 L418.26,170.2 L418.40,181.7 L418.54,165.6 L418.69,177.1 L418.83,163.3 L418.97,177.1 L419.11,163.3 L419.25,177.1 L419.39,163.3 L419.54,177.1 L419.68,161.0 L419.82,174.8 L419.96,161.0 L420.10,174.8 L420.24,161.0 L420.38,170.2 L420.53,158.7 L420.67,167.9 L420.81,156.4 L420.95,167.9 L421.10,58.9 L421.40,48.9 L421.75,60.9 L422.10,196.5 L422.40,221.5 L422.40,220.8 L422.54,209.3 L422.68,213.9 L422.82,202.4 L422.96,211.6 L423.10,195.5 L423.24,207.0 L423.38,193.2 L423.52,207.0 L423.66,190.9 L423.80,204.7 L423.95,190.9 L424.09,204.7 L424.23,193.2 L424.37,204.7 L424.51,190.9 L424.65,202.4 L424.79,186.3 L424.93,200.1 L425.07,186.3 L425.21,197.8 L425.35,186.3 L425.49,200.1 L425.63,186.3 L425.77,200.1 L425.91,188.6 L426.05,200.1 L426.19,186.3 L426.33,197.8 L426.47,184.0 L426.62,195.5 L426.76,181.7 L426.90,195.5 L427.04,181.7 L427.18,195.5 L427.32,181.7 L427.46,195.5 L427.60,184.0 L427.74,190.9 L427.88,181.7 L428.02,193.2 L428.16,181.7 L428.30,193.2 L428.44,181.7 L428.58,193.2 L428.72,181.7 L428.86,193.2 L429.00,179.4 L429.14,190.9 L429.28,174.8 L429.42,186.3 L429.57,174.8 L429.71,190.9 L429.85,177.1 L429.99,188.6 L430.13,177.1 L430.27,188.6 L430.41,177.1 L430.55,188.6 L430.69,177.1 L430.83,186.3 L430.97,170.2 L431.11,184.0 L431.25,172.5 L431.39,184.0 L431.53,172.5 L431.67,184.0 L431.81,172.5 L431.95,186.3 L432.09,172.5 L432.24,186.3 L432.38,170.2 L432.52,181.7 L432.66,167.9 L432.80,179.4 L432.94,167.9 L433.08,179.4 L433.22,165.6 L433.36,181.7 L433.50,167.9 L433.64,181.7 L433.78,163.3 L433.92,177.1 L434.06,165.6 L434.20,179.4 L434.34,165.6 L434.48,179.4 L434.62,165.6 L434.76,177.1 L434.90,161.0 L435.04,172.5 L435.19,161.0 L435.33,172.5 L435.47,161.0 L435.61,172.5 L435.75,158.7 L435.89,170.2 L436.03,158.7 L436.17,170.2 L436.31,161.0 L436.45,167.9 L436.60,67.3 L436.90,57.3 L437.25,69.3 L437.60,196.5 L437.90,221.5 L437.90,220.8 L438.04,209.3 L438.18,216.2 L438.32,204.7 L438.46,211.6 L438.60,200.1 L438.75,209.3 L438.89,195.5 L439.03,207.0 L439.17,193.2 L439.31,202.4 L439.45,188.6 L439.59,202.4 L439.73,193.2 L439.87,202.4 L440.01,190.9 L440.16,207.0 L440.30,190.9 L440.44,204.7 L440.58,186.3 L440.72,200.1 L440.86,186.3 L441.00,200.1 L441.14,186.3 L441.28,200.1 L441.42,186.3 L441.56,197.8 L441.71,186.3 L441.85,200.1 L441.99,188.6 L442.13,200.1 L442.27,188.6 L442.41,197.8 L442.55,184.0 L442.69,197.8 L442.83,184.0 L442.97,195.5 L443.12,184.0 L443.26,195.5 L443.40,181.7 L443.54,195.5 L443.68,181.7 L443.82,197.8 L443.96,184.0 L444.10,193.2 L444.24,181.7 L444.38,193.2 L444.52,181.7 L444.67,193.2 L444.81,179.4 L444.95,190.9 L445.09,177.1 L445.23,193.2 L445.37,177.1 L445.51,190.9 L445.65,179.4 L445.79,193.2 L445.93,174.8 L446.07,188.6 L446.22,177.1 L446.36,188.6 L446.50,177.1 L446.64,188.6 L446.78,177.1 L446.92,190.9 L447.06,174.8 L447.20,188.6 L447.34,174.8 L447.48,188.6 L447.63,174.8 L447.77,186.3 L447.91,172.5 L448.05,186.3 L448.19,172.5 L448.33,186.3 L448.47,172.5 L448.61,186.3 L448.75,172.5 L448.89,186.3 L449.03,172.5 L449.18,184.0 L449.32,172.5 L449.46,181.7 L449.60,167.9 L449.74,181.7 L449.88,167.9 L450.02,181.7 L450.16,170.2 L450.30,181.7 L450.44,170.2 L450.59,184.0 L450.73,167.9 L450.87,181.7 L451.01,167.9 L451.15,177.1 L451.29,163.3 L451.43,177.1 L451.57,163.3 L451.71,177.1 L451.85,163.3 L451.99,179.4 L452.14,165.6 L452.28,179.4 L452.42,161.0 L452.56,174.8 L452.70,161.0 L452.84,174.8 L452.98,161.0 L453.12,174.8 L453.26,161.0 L453.40,172.5 L453.55,156.4 L453.69,167.9 L453.83,156.4 L453.97,167.9 L454.11,158.7 L454.25,167.9 L454.40,75.9 L454.70,65.9 L455.05,77.9 L455.40,190.0 L455.70,215.0 L455.70,213.9 L455.84,202.4 L455.98,207.0 L456.12,193.2 L456.27,204.7 L456.41,188.6 L456.55,200.1 L456.69,188.6 L456.83,197.8 L456.97,184.0 L457.11,195.5 L457.26,184.0 L457.40,195.5 L457.54,181.7 L457.68,195.5 L457.82,179.4 L457.96,190.9 L458.10,181.7 L458.25,193.2 L458.39,181.7 L458.53,193.2 L458.67,181.7 L458.81,193.2 L458.95,177.1 L459.09,188.6 L459.24,174.8 L459.38,188.6 L459.52,174.8 L459.66,188.6 L459.80,174.8 L459.94,188.6 L460.08,174.8 L460.23,186.3 L460.37,172.5 L460.51,186.3 L460.65,174.8 L460.79,186.3 L460.93,172.5 L461.07,186.3 L461.22,170.2 L461.36,179.4 L461.50,167.9 L461.64,179.4 L461.78,167.9 L461.92,179.4 L462.07,167.9 L462.21,181.7 L462.35,170.2 L462.49,179.4 L462.63,165.6 L462.77,177.1 L462.91,165.6 L463.06,177.1 L463.20,163.3 L463.34,177.1 L463.48,163.3 L463.62,174.8 L463.76,158.7 L463.90,172.5 L464.05,158.7 L464.19,174.8 L464.33,161.0 L464.47,174.8 L464.61,163.3 L464.75,170.2 L464.89,158.7 L465.04,170.2 L465.18,156.4 L465.32,170.2 L465.46,151.8 L465.60,165.6 L465.74,154.1 L465.88,165.6 L466.03,154.1 L466.17,163.3 L466.31,149.5 L466.45,161.0 L466.60,62.2 L466.90,52.2 L467.25,64.2 L467.60,191.0 L467.90,216.0 L467.90,213.9 L468.04,202.4 L468.18,207.0 L468.32,195.5 L468.46,204.7 L468.60,190.9 L468.74,202.4 L468.88,188.6 L469.02,202.4 L469.16,186.3 L469.30,197.8 L469.44,181.7 L469.58,195.5 L469.72,181.7 L469.87,197.8 L470.01,181.7 L470.15,195.5 L470.29,184.0 L470.43,195.5 L470.57,179.4 L470.71,193.2 L470.85,179.4 L470.99,193.2 L471.13,179.4 L471.27,190.9 L471.41,179.4 L471.55,188.6 L471.69,174.8 L471.83,188.6 L471.97,174.8 L472.11,188.6 L472.25,177.1 L472.39,188.6 L472.53,177.1 L472.67,188.6 L472.81,172.5 L472.95,186.3 L473.09,172.5 L473.23,184.0 L473.38,170.2 L473.52,186.3 L473.66,170.2 L473.80,184.0 L473.94,165.6 L474.08,181.7 L474.22,170.2 L474.36,181.7 L474.50,170.2 L474.64,181.7 L474.78,170.2 L474.92,181.7 L475.06,167.9 L475.20,179.4 L475.34,163.3 L475.48,174.8 L475.62,163.3 L475.76,177.1 L475.90,163.3 L476.04,177.1 L476.18,163.3 L476.32,172.5 L476.46,163.3 L476.60,174.8 L476.74,163.3 L476.88,174.8 L477.03,161.0 L477.17,174.8 L477.31,156.4 L477.45,170.2 L477.59,154.1 L477.73,170.2 L477.87,156.4 L478.01,170.2 L478.15,151.8 L478.29,165.6 L478.43,154.1 L478.57,165.6 L478.71,156.4 L478.85,163.3 L479.00,62.7 L479.30,52.7 L479.65,64.7 L480.00,196.5 L480.30,221.5 L480.30,220.8 L480.44,209.3 L480.58,213.9 L480.72,200.1 L480.87,209.3 L481.01,195.5 L481.15,209.3 L481.29,193.2 L481.43,202.4 L481.57,190.9 L481.71,204.7 L481.86,188.6 L482.00,202.4 L482.14,186.3 L482.28,200.1 L482.42,186.3 L482.56,200.1 L482.70,188.6 L482.85,200.1 L482.99,188.6 L483.13,202.4 L483.27,181.7 L483.41,195.5 L483.55,184.0 L483.69,195.5 L483.84,181.7 L483.98,193.2 L484.12,181.7 L484.26,195.5 L484.40,179.4 L484.54,193.2 L484.68,179.4 L484.83,195.5 L484.97,181.7 L485.11,193.2 L485.25,181.7 L485.39,195.5 L485.53,179.4 L485.68,188.6 L485.82,174.8 L485.96,188.6 L486.10,174.8 L486.24,188.6 L486.38,174.8 L486.52,188.6 L486.67,177.1 L486.81,186.3 L486.95,172.5 L487.09,186.3 L487.23,172.5 L487.37,186.3 L487.51,172.5 L487.66,184.0 L487.80,172.5 L487.94,179.4 L488.08,167.9 L488.22,181.7 L488.36,167.9 L488.50,181.7 L488.65,170.2 L488.79,181.7 L488.93,170.2 L489.07,179.4 L489.21,165.6 L489.35,177.1 L489.49,163.3 L489.64,177.1 L489.78,163.3 L489.92,172.5 L490.06,161.0 L490.20,172.5 L490.34,158.7 L490.48,172.5 L490.63,156.4 L490.77,170.2 L490.91,158.7 L491.05,167.9 L491.20,67.3 L491.50,57.3 L491.85,69.3 L492.20,192.7 L492.50,217.7 L492.50,216.2 L492.64,204.7 L492.78,209.3 L492.92,195.5 L493.07,204.7 L493.21,190.9 L493.35,200.1 L493.49,188.6 L493.63,200.1 L493.77,188.6 L493.91,200.1 L494.05,186.3 L494.20,195.5 L494.34,184.0 L494.48,197.8 L494.62,184.0 L494.76,197.8 L494.90,186.3 L495.04,197.8 L495.18,179.4 L495.33,195.5 L495.47,179.4 L495.61,193.2 L495.75,179.4 L495.89,193.2 L496.03,177.1 L496.17,190.9 L496.32,174.8 L496.46,186.3 L496.60,177.1 L496.74,188.6 L496.88,177.1 L497.02,188.6 L497.16,177.1 L497.30,186.3 L497.45,170.2 L497.59,184.0 L497.73,170.2 L497.87,184.0 L498.01,170.2 L498.15,184.0 L498.29,170.2 L498.43,179.4 L498.58,167.9 L498.72,181.7 L498.86,170.2 L499.00,181.7 L499.14,170.2 L499.28,181.7 L499.42,163.3 L499.57,177.1 L499.71,163.3 L499.85,177.1 L499.99,163.3 L500.13,177.1 L500.27,163.3 L500.41,172.5 L500.55,161.0 L500.70,174.8 L500.84,161.0 L500.98,174.8 L501.12,161.0 L501.26,172.5 L501.40,158.7 L501.54,167.9 L501.68,156.4 L501.83,165.6 L501.97,154.1 L502.11,163.3 L502.25,154.1 L502.40,62.2 L502.70,52.2 L503.05,64.2 L503.40,196.5 L503.70,221.5 L503.70,220.8 L503.84,207.0 L503.98,211.6 L504.13,197.8 L504.27,207.0 L504.41,193.2 L504.55,207.0 L504.69,190.9 L504.83,204.7 L504.98,190.9 L505.12,204.7 L505.26,193.2 L505.40,207.0 L505.54,190.9 L505.69,200.1 L505.83,186.3 L505.97,197.8 L506.11,186.3 L506.25,200.1 L506.39,186.3 L506.54,195.5 L506.68,184.0 L506.82,197.8 L506.96,184.0 L507.10,197.8 L507.25,186.3 L507.39,197.8 L507.53,181.7 L507.67,193.2 L507.81,179.4 L507.96,193.2 L508.10,177.1 L508.24,193.2 L508.38,174.8 L508.52,188.6 L508.66,174.8 L508.81,188.6 L508.95,174.8 L509.09,188.6 L509.23,172.5 L509.37,186.3 L509.52,172.5 L509.66,184.0 L509.80,172.5 L509.94,181.7 L510.08,167.9 L510.22,179.4 L510.37,167.9 L510.51,179.4 L510.65,167.9 L510.80,62.7 L511.10,52.7 L511.45,64.7 L511.80,180.0 L512.10,205.0 L512.10,204.7 L512.24,186.3 L512.38,195.5 L512.53,181.7 L512.67,193.2 L512.81,179.4 L512.96,193.2 L513.10,181.7 L513.24,188.6 L513.38,177.1 L513.52,188.6 L513.67,174.8 L513.81,184.0 L513.95,172.5 L514.09,184.0 L514.24,170.2 L514.38,179.4 L514.52,165.6 L514.66,181.7 L514.81,163.3 L514.95,174.8 L515.10,62.2 L515.40,52.2 L515.75,64.2 L516.10,190.0 L516.40,215.0 L516.40,213.9 L516.54,200.1 L516.68,204.7 L516.82,190.9 L516.96,200.1 L517.10,188.6 L517.24,200.1 L517.38,188.6 L517.52,197.8 L517.66,184.0 L517.81,195.5 L517.95,181.7 L518.09,195.5 L518.23,184.0 L518.37,195.5 L518.51,177.1 L518.65,193.2 L518.79,179.4 L518.93,193.2 L519.07,181.7 L519.21,195.5 L519.35,181.7 L519.49,188.6 L519.63,177.1 L519.77,190.9 L519.91,174.8 L520.05,188.6 L520.19,174.8 L520.33,188.6 L520.47,170.2 L520.62,184.0 L520.76,172.5 L520.90,184.0 L521.04,172.5 L521.18,186.3 L521.32,172.5 L521.46,181.7 L521.60,167.9 L521.74,181.7 L521.88,167.9 L522.02,181.7 L522.16,167.9 L522.30,179.4 L522.44,163.3 L522.58,177.1 L522.72,163.3 L522.86,177.1 L523.00,165.6 L523.14,177.1 L523.29,161.0 L523.43,174.8 L523.57,161.0 L523.71,174.8 L523.85,161.0 L523.99,170.2 L524.13,156.4 L524.27,167.9 L524.41,156.4 L524.55,167.9 L524.70,62.2 L525.00,52.2 L525.35,64.2 L525.70,181.0 L526.00,206.0 L526.00,204.7 L526.14,186.3 L526.28,195.5 L526.43,181.7 L526.57,195.5 L526.71,179.4 L526.86,193.2 L527.00,179.4 L527.14,193.2 L527.28,177.1 L527.42,188.6 L527.57,177.1 L527.71,190.9 L527.85,170.2 L527.99,186.3 L528.14,172.5 L528.28,184.0 L528.42,165.6 L528.56,179.4 L528.71,167.9 L528.85,179.4 L529.00,67.3 L529.30,57.3 L529.65,69.3 L530.00,177.0 L530.30,202.0 L530.30,197.8 L530.44,188.6 L530.58,197.8 L530.72,188.6 L530.86,197.8 L531.00,188.6 L531.14,200.1 L531.28,186.3 L531.42,202.4 L531.57,188.6 L531.71,202.4 L531.85,184.0 L531.99,197.8 L532.13,181.7 L532.27,195.5 L532.41,184.0 L532.55,195.5 L532.69,181.7 L532.83,195.5 L532.97,181.7 L533.11,195.5 L533.25,184.0 L533.39,197.8 L533.53,184.0 L533.67,197.8 L533.81,184.0 L533.95,197.8 L534.10,184.0 L534.24,197.8 L534.38,181.7 L534.52,195.5 L534.66,181.7 L534.80,195.5 L534.94,184.0 L535.08,195.5 L535.22,184.0 L535.36,197.8 L535.50,186.3 L535.64,197.8 L535.78,186.3 L535.92,193.2 L536.06,181.7 L536.20,190.9 L536.34,179.4 L536.49,190.9 L536.63,179.4 L536.77,190.9 L536.91,179.4 L537.05,190.9 L537.19,181.7 L537.33,193.2 L537.47,181.7 L537.61,193.2 L537.75,181.7 L537.89,193.2 L538.03,181.7 L538.17,190.9 L538.31,181.7 L538.45,190.9 L538.59,179.4 L538.73,190.9 L538.88,181.7 L539.02,190.9 L539.16,179.4 L539.30,186.3 L539.44,179.4 L539.58,188.6 L539.72,177.1 L539.86,188.6 L540.00,177.1 L540.14,188.6 L540.28,177.1 L540.42,186.3 L540.56,177.1 L540.70,186.3 L540.84,177.1 L540.98,186.3 L541.12,177.1 L541.26,186.3 L541.41,174.8 L541.55,184.0 L541.69,174.8 L541.83,184.0 L541.97,174.8 L542.11,184.0 L542.25,174.8 L542.39,181.7 L542.53,174.8 L542.67,177.1 L542.81,167.9 L542.95,177.1 L543.09,170.2 L543.23,179.4 L543.37,172.5 L543.51,179.4 L543.65,167.9 L543.80,177.1 L543.94,167.9 L544.08,174.8 L544.22,167.9 L544.36,170.2 L544.50,163.3 L544.64,170.2 L544.78,163.3 L544.92,165.6 L545.06,158.7 L545.20,167.9 L545.34,161.0 L545.48,163.3 L545.62,156.4 L545.76,163.3 L545.90,154.1 L546.04,161.0 L546.18,154.1 L546.33,154.1 L546.47,149.5 L546.61,149.5 L546.75,144.9 L546.89,147.2 L547.03,140.3 L547.17,147.2 L547.31,138.0 L547.45,140.3 L547.60,88.6 L547.90,78.6 L548.25,90.6 L548.60,181.0 L548.90,206.0 L548.90,204.7 L549.04,190.9 L549.18,195.5 L549.32,184.0 L549.46,195.5 L549.60,181.7 L549.75,190.9 L549.89,177.1 L550.03,190.9 L550.17,177.1 L550.31,188.6 L550.45,177.1 L550.59,184.0 L550.73,170.2 L550.87,184.0 L551.01,170.2 L551.15,184.0 L551.29,172.5 L551.43,184.0 L551.58,167.9 L551.72,181.7 L551.86,170.2 L552.00,181.7 L552.14,167.9 L552.28,181.7 L552.42,167.9 L552.56,177.1 L552.70,163.3 L552.84,177.1 L552.98,163.3 L553.12,177.1 L553.27,163.3 L553.41,177.1 L553.55,161.0 L553.69,174.8 L553.83,161.0 L553.97,174.8 L554.11,161.0 L554.25,172.5 L554.39,161.0 L554.53,167.9 L554.67,154.1 L554.81,170.2 L554.96,154.1 L555.10,170.2 L555.24,156.4 L555.38,170.2 L555.52,154.1 L555.66,167.9 L555.80,154.1 L555.94,165.6 L556.08,154.1 L556.22,167.9 L556.36,149.5 L556.50,161.0 L556.65,149.5 L556.79,161.0 L556.93,142.6 L557.07,158.7 L557.21,147.2 L557.35,156.4 L557.50,67.3 L557.80,57.3 L558.15,69.3 L558.50,187.6 L558.80,212.6 L558.80,211.6 L558.94,195.5 L559.08,202.4 L559.22,186.3 L559.37,197.8 L559.51,188.6 L559.65,202.4 L559.79,184.0 L559.93,197.8 L560.07,186.3 L560.21,195.5 L560.35,184.0 L560.49,193.2 L560.64,179.4 L560.78,190.9 L560.92,179.4 L561.06,193.2 L561.20,179.4 L561.34,188.6 L561.48,174.8 L561.62,190.9 L561.77,174.8 L561.91,190.9 L562.05,177.1 L562.19,186.3 L562.33,172.5 L562.47,184.0 L562.61,170.2 L562.75,184.0 L562.90,170.2 L563.04,181.7 L563.18,167.9 L563.32,181.7 L563.46,165.6 L563.60,181.7 L563.74,165.6 L563.88,177.1 L564.03,165.6 L564.17,179.4 L564.31,161.0 L564.45,172.5 L564.60,62.2 L564.90,52.2 L565.25,64.2 L565.60,182.5 L565.90,207.5 L565.90,207.0 L566.04,195.5 L566.18,200.1 L566.32,188.6 L566.46,197.8 L566.60,184.0 L566.74,195.5 L566.88,179.4 L567.02,193.2 L567.16,177.1 L567.30,190.9 L567.44,177.1 L567.58,188.6 L567.72,177.1 L567.86,190.9 L568.00,177.1 L568.14,188.6 L568.28,174.8 L568.42,188.6 L568.70,161.0" fill="none" stroke="#000" stroke-width="1.2" stroke-linejoin="miter"/>
<path d="M88.90,418.6 L89.04,407.1 L89.19,418.6 L89.33,407.1 L89.47,418.6 L89.62,407.1 L89.76,418.6 L89.90,407.1 L90.04,418.6 L90.19,402.5 L90.33,414.0 L90.47,400.2 L90.62,414.0 L90.76,400.2 L90.90,411.7 L91.05,400.2 L91.19,414.0 L91.33,400.2 L91.47,414.0 L91.62,402.5 L91.76,414.0 L91.90,400.2 L92.05,411.7 L92.19,397.9 L92.33,407.1 L92.48,395.6 L92.62,407.1 L92.76,395.6 L92.91,404.8 L93.05,393.3 L93.19,404.8 L93.33,395.6 L93.48,404.8 L93.62,393.3 L93.76,404.8 L93.91,391.0 L94.05,400.2 L94.20,306.6 L94.50,296.6 L94.85,308.6 L95.20,432.8 L95.50,457.8 L95.50,457.7 L95.64,446.2 L95.78,453.1 L95.92,441.6 L96.06,448.5 L96.20,434.7 L96.34,446.2 L96.49,434.7 L96.63,441.6 L96.77,427.8 L96.91,441.6 L97.05,430.1 L97.19,441.6 L97.33,430.1 L97.47,439.3 L97.61,427.8 L97.75,441.6 L97.89,425.5 L98.03,439.3 L98.18,427.8 L98.32,439.3 L98.46,425.5 L98.60,434.7 L98.74,420.9 L98.88,434.7 L99.02,420.9 L99.16,434.7 L99.30,423.2 L99.44,437.0 L99.58,423.2 L99.72,432.4 L99.86,418.6 L100.01,434.7 L100.15,418.6 L100.29,432.4 L100.43,418.6 L100.57,432.4 L100.71,416.3 L100.85,427.8 L100.99,414.0 L101.13,427.8 L101.27,416.3 L101.41,427.8 L101.55,414.0 L101.70,430.1 L101.84,416.3 L101.98,425.5 L102.12,414.0 L102.26,423.2 L102.40,411.7 L102.54,425.5 L102.68,411.7 L102.82,423.2 L102.96,409.4 L103.10,418.6 L103.24,407.1 L103.39,420.9 L103.53,407.1 L103.67,420.9 L103.81,409.4 L103.95,423.2 L104.09,407.1 L104.23,418.6 L104.37,404.8 L104.51,416.3 L104.65,402.5 L104.79,416.3 L104.93,402.5 L105.07,416.3 L105.22,400.2 L105.36,411.7 L105.50,400.2 L105.64,414.0 L105.78,402.5 L105.92,414.0 L106.06,397.9 L106.20,411.7 L106.34,395.6 L106.48,409.4 L106.62,393.3 L106.76,404.8 L106.91,393.3 L107.05,404.8 L107.19,393.3 L107.33,404.8 L107.47,393.3 L107.61,400.2 L107.75,391.0 L107.90,306.6 L108.20,296.6 L108.55,308.6 L108.90,432.8 L109.20,457.8 L109.20,457.7 L109.34,446.2 L109.48,453.1 L109.62,439.3 L109.76,450.8 L109.90,437.0 L110.05,448.5 L110.19,434.7 L110.33,443.9 L110.47,432.4 L110.61,443.9 L110.75,430.1 L110.89,441.6 L111.03,427.8 L111.17,443.9 L111.31,425.5 L111.46,439.3 L111.60,425.5 L111.74,439.3 L111.88,427.8 L112.02,441.6 L112.16,427.8 L112.30,439.3 L112.44,427.8 L112.58,434.7 L112.72,423.2 L112.86,437.0 L113.01,420.9 L113.15,434.7 L113.29,420.9 L113.43,434.7 L113.57,423.2 L113.71,432.4 L113.85,420.9 L113.99,432.4 L114.13,418.6 L114.27,432.4 L114.42,420.9 L114.56,432.4 L114.70,418.6 L114.84,430.1 L114.98,414.0 L115.12,427.8 L115.26,414.0 L115.40,427.8 L115.54,416.3 L115.68,427.8 L115.83,416.3 L115.97,427.8 L116.11,416.3 L116.25,425.5 L116.39,411.7 L116.53,423.2 L116.67,409.4 L116.81,423.2 L116.95,411.7 L117.09,423.2 L117.23,409.4 L117.38,420.9 L117.52,407.1 L117.66,420.9 L117.80,407.1 L117.94,423.2 L118.08,409.4 L118.22,420.9 L118.36,407.1 L118.50,416.3 L118.64,404.8 L118.79,416.3 L118.93,402.5 L119.07,416.3 L119.21,402.5 L119.35,416.3 L119.49,404.8 L119.63,414.0 L119.77,402.5 L119.91,414.0 L120.05,402.5 L120.19,414.0 L120.34,400.2 L120.48,414.0 L120.62,393.3 L120.76,409.4 L120.90,395.6 L121.04,409.4 L121.18,393.3 L121.32,409.4 L121.46,391.0 L121.60,407.1 L121.75,393.3 L121.89,407.1 L122.03,395.6 L122.17,404.8 L122.31,391.0 L122.45,400.2 L122.60,297.8 L122.90,287.8 L123.25,299.8 L123.60,430.0 L123.90,455.0 L123.90,455.4 L124.04,443.9 L124.18,448.5 L124.32,437.0 L124.47,446.2 L124.61,430.1 L124.75,441.6 L124.89,430.1 L125.03,443.9 L125.17,425.5 L125.32,439.3 L125.46,425.5 L125.60,439.3 L125.74,425.5 L125.88,439.3 L126.02,427.8 L126.17,437.0 L126.31,423.2 L126.45,437.0 L126.59,423.2 L126.73,434.7 L126.87,423.2 L127.01,434.7 L127.16,418.6 L127.30,432.4 L127.44,416.3 L127.58,430.1 L127.72,418.6 L127.86,432.4 L128.01,420.9 L128.15,434.7 L128.29,416.3 L128.43,427.8 L128.57,416.3 L128.71,427.8 L128.85,414.0 L129.00,427.8 L129.14,414.0 L129.28,425.5 L129.42,411.7 L129.56,423.2 L129.70,411.7 L129.85,423.2 L129.99,411.7 L130.13,425.5 L130.27,414.0 L130.41,423.2 L130.55,409.4 L130.70,420.9 L130.84,407.1 L130.98,418.6 L131.12,404.8 L131.26,418.6 L131.40,402.5 L131.54,416.3 L131.69,404.8 L131.83,416.3 L131.97,404.8 L132.11,418.6 L132.25,404.8 L132.39,418.6 L132.54,400.2 L132.68,414.0 L132.82,400.2 L132.96,414.0 L133.10,397.9 L133.24,411.7 L133.38,395.6 L133.53,409.4 L133.67,395.6 L133.81,409.4 L133.95,395.6 L134.09,409.4 L134.23,393.3 L134.38,407.1 L134.52,393.3 L134.66,404.8 L134.80,393.3 L134.94,400.2 L135.08,388.7 L135.23,400.2 L135.37,388.7 L135.51,397.9 L135.65,386.4 L135.80,302.3 L136.10,292.3 L136.45,304.3 L136.80,432.0 L137.10,457.0 L137.10,455.4 L137.24,443.9 L137.38,450.8 L137.52,439.3 L137.67,446.2 L137.81,434.7 L137.95,443.9 L138.09,432.4 L138.23,443.9 L138.37,432.4 L138.51,443.9 L138.66,427.8 L138.80,441.6 L138.94,427.8 L139.08,437.0 L139.22,425.5 L139.36,437.0 L139.50,425.5 L139.65,437.0 L139.79,423.2 L139.93,434.7 L140.07,423.2 L140.21,437.0 L140.35,423.2 L140.49,437.0 L140.64,418.6 L140.78,432.4 L140.92,418.6 L141.06,432.4 L141.20,418.6 L141.34,432.4 L141.48,418.6 L141.63,430.1 L141.77,414.0 L141.91,427.8 L142.05,416.3 L142.19,427.8 L142.33,416.3 L142.48,427.8 L142.62,414.0 L142.76,425.5 L142.90,411.7 L143.04,425.5 L143.18,411.7 L143.32,423.2 L143.47,409.4 L143.61,420.9 L143.75,409.4 L143.89,418.6 L144.03,409.4 L144.17,420.9 L144.31,409.4 L144.46,418.6 L144.60,404.8 L144.74,418.6 L144.88,404.8 L145.02,416.3 L145.16,404.8 L145.30,416.3 L145.45,397.9 L145.59,411.7 L145.73,400.2 L145.87,414.0 L146.01,400.2 L146.15,414.0 L146.29,397.9 L146.44,409.4 L146.58,397.9 L146.72,411.7 L146.86,391.0 L147.00,404.8 L147.14,393.3 L147.28,404.8 L147.43,391.0 L147.57,400.2 L147.71,391.0 L147.85,397.9 L148.00,302.3 L148.30,292.3 L148.65,304.3 L149.00,430.0 L149.30,455.0 L149.30,453.1 L149.44,441.6 L149.58,448.5 L149.72,437.0 L149.86,446.2 L150.00,434.7 L150.14,443.9 L150.28,432.4 L150.42,446.2 L150.57,427.8 L150.71,441.6 L150.85,427.8 L150.99,439.3 L151.13,427.8 L151.27,439.3 L151.41,425.5 L151.55,437.0 L151.69,423.2 L151.83,434.7 L151.97,423.2 L152.11,434.7 L152.25,423.2 L152.39,437.0 L152.53,423.2 L152.67,434.7 L152.81,420.9 L152.96,432.4 L153.10,418.6 L153.24,432.4 L153.38,418.6 L153.52,432.4 L153.66,416.3 L153.80,427.8 L153.94,414.0 L154.08,427.8 L154.22,414.0 L154.36,430.1 L154.50,416.3 L154.64,427.8 L154.78,414.0 L154.92,425.5 L155.06,409.4 L155.20,423.2 L155.35,411.7 L155.49,423.2 L155.63,409.4 L155.77,423.2 L155.91,407.1 L156.05,418.6 L156.19,407.1 L156.33,423.2 L156.47,409.4 L156.61,420.9 L156.75,409.4 L156.89,420.9 L157.03,404.8 L157.17,416.3 L157.31,402.5 L157.45,416.3 L157.59,402.5 L157.74,416.3 L157.88,402.5 L158.02,414.0 L158.16,400.2 L158.30,414.0 L158.44,400.2 L158.58,414.0 L158.72,402.5 L158.86,411.7 L159.00,395.6 L159.14,409.4 L159.28,395.6 L159.42,409.4 L159.56,395.6 L159.70,409.4 L159.84,391.0 L159.98,404.8 L160.13,393.3 L160.27,404.8 L160.41,391.0 L160.55,402.5 L160.69,388.7 L160.83,402.5 L160.97,391.0 L161.11,400.2 L161.25,386.4 L161.40,306.6 L161.70,296.6 L162.05,308.6 L162.40,430.0 L162.70,455.0 L162.70,455.4 L162.84,443.9 L162.98,450.8 L163.12,437.0 L163.27,446.2 L163.41,432.4 L163.55,443.9 L163.69,430.1 L163.83,439.3 L163.97,425.5 L164.12,439.3 L164.26,427.8 L164.40,441.6 L164.54,427.8 L164.68,439.3 L164.82,425.5 L164.97,437.0 L165.11,423.2 L165.25,434.7 L165.39,423.2 L165.53,434.7 L165.67,420.9 L165.82,430.1 L165.96,418.6 L166.10,430.1 L166.24,418.6 L166.38,432.4 L166.53,420.9 L166.67,432.4 L166.81,416.3 L166.95,430.1 L167.09,416.3 L167.23,430.1 L167.38,414.0 L167.52,427.8 L167.66,414.0 L167.80,423.2 L167.94,411.7 L168.08,425.5 L168.22,411.7 L168.37,425.5 L168.51,414.0 L168.65,425.5 L168.79,409.4 L168.93,420.9 L169.07,409.4 L169.22,420.9 L169.36,407.1 L169.50,420.9 L169.64,407.1 L169.78,416.3 L169.92,402.5 L170.07,416.3 L170.21,404.8 L170.35,416.3 L170.49,402.5 L170.63,418.6 L170.78,400.2 L170.92,414.0 L171.06,402.5 L171.20,411.7 L171.34,400.2 L171.48,414.0 L171.62,395.6 L171.77,409.4 L171.91,395.6 L172.05,409.4 L172.19,395.6 L172.33,409.4 L172.47,393.3 L172.62,407.1 L172.76,393.3 L172.90,407.1 L173.04,388.7 L173.18,400.2 L173.32,388.7 L173.47,400.2 L173.61,391.0 L173.75,395.6 L173.90,306.6 L174.20,296.6 L174.55,308.6 L174.90,430.0 L175.20,455.0 L175.20,455.4 L175.34,443.9 L175.48,448.5 L175.62,437.0 L175.76,443.9 L175.90,430.1 L176.04,441.6 L176.18,430.1 L176.32,443.9 L176.47,425.5 L176.61,439.3 L176.75,427.8 L176.89,441.6 L177.03,427.8 L177.17,441.6 L177.31,425.5 L177.45,434.7 L177.59,420.9 L177.73,434.7 L177.87,420.9 L178.01,434.7 L178.15,423.2 L178.29,437.0 L178.43,423.2 L178.57,434.7 L178.71,418.6 L178.86,434.7 L179.00,420.9 L179.14,432.4 L179.28,418.6 L179.42,432.4 L179.56,414.0 L179.70,427.8 L179.84,414.0 L179.98,425.5 L180.12,414.0 L180.26,427.8 L180.40,414.0 L180.54,427.8 L180.68,411.7 L180.82,425.5 L180.96,411.7 L181.10,425.5 L181.25,411.7 L181.39,423.2 L181.53,409.4 L181.67,423.2 L181.81,407.1 L181.95,418.6 L182.09,407.1 L182.23,418.6 L182.37,409.4 L182.51,418.6 L182.65,407.1 L182.79,420.9 L182.93,404.8 L183.07,418.6 L183.21,404.8 L183.35,416.3 L183.49,404.8 L183.64,416.3 L183.78,404.8 L183.92,411.7 L184.06,400.2 L184.20,411.7 L184.34,400.2 L184.48,411.7 L184.62,400.2 L184.76,414.0 L184.90,397.9 L185.04,409.4 L185.18,395.6 L185.32,409.4 L185.46,397.9 L185.60,407.1 L185.74,391.0 L185.88,404.8 L186.03,391.0 L186.17,404.8 L186.31,391.0 L186.45,402.5 L186.59,388.7 L186.73,402.5 L186.87,391.0 L187.01,400.2 L187.15,388.7 L187.30,302.3 L187.60,292.3 L187.95,304.3 L188.30,430.0 L188.60,455.0 L188.60,453.1 L188.74,443.9 L188.88,450.8 L189.02,439.3 L189.16,448.5 L189.31,434.7 L189.45,443.9 L189.59,430.1 L189.73,441.6 L189.87,430.1 L190.01,439.3 L190.15,425.5 L190.29,441.6 L190.43,425.5 L190.58,441.6 L190.72,427.8 L190.86,441.6 L191.00,427.8 L191.14,437.0 L191.28,423.2 L191.42,437.0 L191.56,420.9 L191.71,434.7 L191.85,420.9 L191.99,434.7 L192.13,420.9 L192.27,434.7 L192.41,418.6 L192.55,430.1 L192.69,418.6 L192.83,432.4 L192.98,420.9 L193.12,432.4 L193.26,420.9 L193.40,432.4 L193.54,416.3 L193.68,427.8 L193.82,414.0 L193.96,425.5 L194.10,414.0 L194.25,427.8 L194.39,414.0 L194.53,430.1 L194.67,416.3 L194.81,425.5 L194.95,414.0 L195.09,425.5 L195.23,414.0 L195.38,425.5 L195.52,411.7 L195.66,425.5 L195.80,409.4 L195.94,423.2 L196.08,404.8 L196.22,418.6 L196.36,407.1 L196.50,420.9 L196.65,407.1 L196.79,420.9 L196.93,407.1 L197.07,423.2 L197.21,409.4 L197.35,418.6 L197.49,404.8 L197.63,416.3 L197.77,404.8 L197.92,416.3 L198.06,402.5 L198.20,416.3 L198.34,402.5 L198.48,414.0 L198.62,402.5 L198.76,411.7 L198.90,402.5 L199.04,414.0 L199.19,400.2 L199.33,414.0 L199.47,400.2 L199.61,409.4 L199.75,395.6 L199.89,409.4 L200.03,395.6 L200.17,409.4 L200.32,395.6 L200.46,409.4 L200.60,393.3 L200.74,407.1 L200.88,393.3 L201.02,407.1 L201.16,393.3 L201.30,402.5 L201.44,388.7 L201.59,402.5 L201.73,391.0 L201.87,400.2 L202.01,388.7 L202.15,395.6 L202.30,315.0 L202.60,305.0 L202.95,317.0 L203.30,432.0 L203.60,457.0 L203.60,457.7 L203.74,443.9 L203.88,450.8 L204.02,437.0 L204.16,446.2 L204.30,434.7 L204.44,443.9 L204.58,430.1 L204.72,443.9 L204.86,430.1 L205.00,446.2 L205.14,427.8 L205.28,439.3 L205.42,427.8 L205.56,439.3 L205.70,425.5 L205.84,439.3 L205.98,423.2 L206.12,434.7 L206.26,420.9 L206.40,434.7 L206.54,420.9 L206.68,434.7 L206.82,418.6 L206.96,432.4 L207.10,418.6 L207.24,432.4 L207.38,420.9 L207.52,432.4 L207.66,420.9 L207.80,427.8 L207.94,414.0 L208.08,427.8 L208.22,414.0 L208.36,425.5 L208.50,414.0 L208.65,425.5 L208.79,411.7 L208.93,425.5 L209.07,411.7 L209.21,425.5 L209.35,414.0 L209.49,425.5 L209.63,407.1 L209.77,418.6 L209.91,407.1 L210.05,420.9 L210.19,407.1 L210.33,418.6 L210.47,402.5 L210.61,416.3 L210.75,404.8 L210.89,416.3 L211.03,404.8 L211.17,418.6 L211.31,400.2 L211.45,414.0 L211.59,400.2 L211.73,411.7 L211.87,400.2 L212.01,411.7 L212.15,393.3 L212.29,407.1 L212.43,395.6 L212.57,409.4 L212.71,393.3 L212.85,407.1 L212.99,393.3 L213.13,407.1 L213.27,391.0 L213.41,402.5 L213.55,391.0 L213.70,297.8 L214.00,287.8 L214.35,299.8 L214.70,432.5 L215.00,457.5 L215.00,457.7 L215.14,446.2 L215.28,450.8 L215.42,439.3 L215.56,448.5 L215.70,434.7 L215.84,448.5 L215.98,430.1 L216.12,443.9 L216.27,430.1 L216.41,441.6 L216.55,427.8 L216.69,441.6 L216.83,427.8 L216.97,439.3 L217.11,425.5 L217.25,441.6 L217.39,427.8 L217.53,439.3 L217.67,427.8 L217.81,437.0 L217.95,423.2 L218.09,434.7 L218.23,423.2 L218.38,434.7 L218.52,423.2 L218.66,434.7 L218.80,418.6 L218.94,432.4 L219.08,418.6 L219.22,432.4 L219.36,420.9 L219.50,434.7 L219.64,420.9 L219.78,427.8 L219.92,414.0 L220.06,427.8 L220.20,416.3 L220.34,425.5 L220.48,414.0 L220.62,427.8 L220.77,416.3 L220.91,425.5 L221.05,411.7 L221.19,425.5 L221.33,411.7 L221.47,425.5 L221.61,414.0 L221.75,425.5 L221.89,407.1 L222.03,420.9 L222.17,407.1 L222.31,418.6 L222.45,407.1 L222.59,420.9 L222.73,407.1 L222.88,416.3 L223.02,402.5 L223.16,416.3 L223.30,404.8 L223.44,418.6 L223.58,404.8 L223.72,416.3 L223.86,400.2 L224.00,414.0 L224.14,400.2 L224.28,411.7 L224.42,397.9 L224.56,411.7 L224.70,395.6 L224.84,409.4 L224.98,397.9 L225.12,409.4 L225.27,395.6 L225.41,407.1 L225.55,393.3 L225.69,404.8 L225.83,391.0 L225.97,400.2 L226.11,388.7 L226.25,400.2 L226.40,302.3 L226.70,292.3 L227.05,304.3 L227.40,432.5 L227.70,457.5 L227.70,457.7 L227.84,446.2 L227.98,450.8 L228.12,439.3 L228.26,448.5 L228.40,434.7 L228.54,446.2 L228.69,430.1 L228.83,443.9 L228.97,430.1 L229.11,443.9 L229.25,432.4 L229.39,443.9 L229.53,432.4 L229.67,441.6 L229.81,427.8 L229.95,439.3 L230.09,427.8 L230.23,439.3 L230.38,425.5 L230.52,439.3 L230.66,425.5 L230.80,434.7 L230.94,423.2 L231.08,434.7 L231.22,423.2 L231.36,437.0 L231.50,423.2 L231.64,437.0 L231.78,420.9 L231.92,432.4 L232.06,418.6 L232.21,432.4 L232.35,418.6 L232.49,432.4 L232.63,418.6 L232.77,430.1 L232.91,414.0 L233.05,427.8 L233.19,416.3 L233.33,427.8 L233.47,416.3 L233.61,430.1 L233.75,416.3 L233.90,430.1 L234.04,411.7 L234.18,425.5 L234.32,411.7 L234.46,423.2 L234.60,411.7 L234.74,423.2 L234.88,411.7 L235.02,425.5 L235.16,407.1 L235.30,423.2 L235.44,407.1 L235.59,420.9 L235.73,407.1 L235.87,420.9 L236.01,409.4 L236.15,420.9 L236.29,402.5 L236.43,416.3 L236.57,402.5 L236.71,416.3 L236.85,404.8 L236.99,416.3 L237.13,404.8 L237.27,414.0 L237.42,400.2 L237.56,414.0 L237.70,402.5 L237.84,414.0 L237.98,400.2 L238.12,411.7 L238.26,395.6 L238.40,409.4 L238.54,395.6 L238.68,409.4 L238.82,395.6 L238.96,404.8 L239.11,391.0 L239.25,407.1 L239.39,393.3 L239.53,404.8 L239.67,391.0 L239.81,400.2 L239.95,391.0 L240.10,302.3 L240.40,292.3 L240.75,304.3 L241.10,428.5 L241.40,453.5 L241.40,453.1 L241.54,441.6 L241.68,450.8 L241.82,437.0 L241.96,446.2 L242.10,434.7 L242.24,441.6 L242.38,430.1 L242.53,441.6 L242.67,425.5 L242.81,439.3 L242.95,425.5 L243.09,441.6 L243.23,425.5 L243.37,439.3 L243.51,427.8 L243.65,437.0 L243.79,423.2 L243.93,437.0 L244.07,423.2 L244.21,437.0 L244.35,423.2 L244.49,434.7 L244.64,423.2 L244.78,434.7 L244.92,423.2 L245.06,432.4 L245.20,418.6 L245.34,432.4 L245.48,420.9 L245.62,432.4 L245.76,418.6 L245.90,432.4 L246.04,418.6 L246.18,432.4 L246.32,418.6 L246.46,427.8 L246.60,414.0 L246.74,427.8 L246.89,414.0 L247.03,427.8 L247.17,414.0 L247.31,427.8 L247.45,416.3 L247.59,427.8 L247.73,411.7 L247.87,425.5 L248.01,411.7 L248.15,425.5 L248.29,411.7 L248.43,423.2 L248.57,411.7 L248.71,423.2 L248.85,411.7 L249.00,423.2 L249.14,407.1 L249.28,420.9 L249.42,409.4 L249.56,420.9 L249.70,409.4 L249.84,423.2 L249.98,407.1 L250.12,420.9 L250.26,407.1 L250.40,418.6 L250.54,402.5 L250.68,416.3 L250.82,402.5 L250.96,416.3 L251.11,402.5 L251.25,416.3 L251.39,404.8 L251.53,416.3 L251.67,404.8 L251.81,414.0 L251.95,402.5 L252.09,414.0 L252.23,400.2 L252.37,414.0 L252.51,400.2 L252.65,411.7 L252.79,400.2 L252.93,411.7 L253.07,397.9 L253.21,409.4 L253.36,395.6 L253.50,409.4 L253.64,397.9 L253.78,411.7 L253.92,397.9 L254.06,411.7 L254.20,395.6 L254.34,407.1 L254.48,391.0 L254.62,404.8 L254.76,393.3 L254.90,404.8 L255.04,391.0 L255.18,400.2 L255.32,388.7 L255.47,402.5 L255.61,388.7 L255.75,402.5 L255.89,391.0 L256.03,397.9 L256.17,386.4 L256.31,395.6 L256.45,386.4 L256.60,311.0 L256.90,301.0 L257.25,313.0 L257.60,425.0 L257.90,450.0 L257.90,450.8 L258.04,439.3 L258.18,443.9 L258.32,430.1 L258.46,439.3 L258.60,425.5 L258.74,439.3 L258.88,420.9 L259.03,434.7 L259.17,420.9 L259.31,437.0 L259.45,423.2 L259.59,434.7 L259.73,418.6 L259.87,432.4 L260.01,420.9 L260.15,432.4 L260.29,418.6 L260.43,432.4 L260.57,414.0 L260.71,425.5 L260.85,414.0 L260.99,427.8 L261.14,416.3 L261.28,427.8 L261.42,416.3 L261.56,425.5 L261.70,411.7 L261.84,425.5 L261.98,411.7 L262.12,425.5 L262.26,411.7 L262.40,418.6 L262.54,407.1 L262.68,420.9 L262.82,407.1 L262.96,420.9 L263.10,407.1 L263.25,418.6 L263.39,404.8 L263.53,416.3 L263.67,404.8 L263.81,416.3 L263.95,404.8 L264.09,418.6 L264.23,404.8 L264.37,414.0 L264.51,397.9 L264.65,411.7 L264.79,400.2 L264.93,411.7 L265.07,400.2 L265.21,414.0 L265.36,397.9 L265.50,409.4 L265.64,395.6 L265.78,411.7 L265.92,397.9 L266.06,409.4 L266.20,393.3 L266.34,407.1 L266.48,393.3 L266.62,407.1 L266.76,393.3 L266.90,402.5 L267.04,386.4 L267.18,400.2 L267.32,388.7 L267.47,402.5 L267.61,386.4 L267.75,397.9 L267.89,386.4 L268.03,397.9 L268.17,388.7 L268.31,393.3 L268.45,384.1 L268.60,302.3 L268.90,292.3 L269.25,304.3 L269.60,430.0 L269.90,455.0 L269.90,455.4 L270.04,443.9 L270.18,450.8 L270.32,437.0 L270.46,443.9 L270.60,430.1 L270.74,443.9 L270.88,430.1 L271.02,441.6 L271.17,425.5 L271.31,439.3 L271.45,425.5 L271.59,439.3 L271.73,427.8 L271.87,441.6 L272.01,423.2 L272.15,437.0 L272.29,423.2 L272.43,437.0 L272.57,423.2 L272.71,437.0 L272.85,420.9 L272.99,430.1 L273.13,418.6 L273.27,432.4 L273.42,418.6 L273.56,430.1 L273.70,418.6 L273.84,432.4 L273.98,418.6 L274.12,430.1 L274.26,416.3 L274.40,427.8 L274.54,416.3 L274.68,430.1 L274.82,414.0 L274.96,427.8 L275.10,409.4 L275.24,425.5 L275.38,409.4 L275.52,423.2 L275.67,411.7 L275.81,425.5 L275.95,414.0 L276.09,420.9 L276.23,409.4 L276.37,420.9 L276.51,407.1 L276.65,420.9 L276.79,407.1 L276.93,420.9 L277.07,402.5 L277.21,416.3 L277.35,402.5 L277.49,416.3 L277.63,402.5 L277.78,418.6 L277.92,404.8 L278.06,414.0 L278.20,402.5 L278.34,414.0 L278.48,400.2 L278.62,414.0 L278.76,400.2 L278.90,414.0 L279.04,395.6 L279.18,409.4 L279.32,395.6 L279.46,409.4 L279.60,395.6 L279.74,409.4 L279.88,393.3 L280.03,407.1 L280.17,395.6 L280.31,404.8 L280.45,388.7 L280.59,402.5 L280.73,388.7 L280.87,397.9 L281.01,388.7 L281.15,395.6 L281.30,306.6 L281.60,296.6 L281.95,308.6 L282.30,427.7 L282.60,452.7 L282.60,453.1 L282.74,439.3 L282.88,446.2 L283.02,432.4 L283.16,441.6 L283.30,425.5 L283.45,439.3 L283.59,427.8 L283.73,439.3 L283.87,427.8 L284.01,437.0 L284.15,423.2 L284.29,437.0 L284.43,425.5 L284.57,434.7 L284.71,423.2 L284.86,432.4 L285.00,418.6 L285.14,430.1 L285.28,418.6 L285.42,432.4 L285.56,418.6 L285.70,432.4 L285.84,416.3 L285.98,427.8 L286.12,416.3 L286.27,430.1 L286.41,416.3 L286.55,430.1 L286.69,411.7 L286.83,423.2 L286.97,409.4 L287.11,423.2 L287.25,411.7 L287.39,423.2 L287.53,411.7 L287.68,420.9 L287.82,409.4 L287.96,418.6 L288.10,407.1 L288.24,420.9 L288.38,409.4 L288.52,416.3 L288.66,404.8 L288.80,416.3 L288.94,402.5 L289.08,416.3 L289.23,402.5 L289.37,416.3 L289.51,397.9 L289.65,414.0 L289.79,400.2 L289.93,414.0 L290.07,400.2 L290.21,414.0 L290.35,395.6 L290.49,409.4 L290.64,395.6 L290.78,409.4 L290.92,395.6 L291.06,407.1 L291.20,393.3 L291.34,404.8 L291.48,391.0 L291.62,407.1 L291.76,388.7 L291.90,402.5 L292.05,388.7 L292.19,402.5 L292.33,386.4 L292.47,397.9 L292.61,386.4 L292.75,395.6 L292.90,302.3 L293.20,292.3 L293.55,304.3 L293.90,427.7 L294.20,452.7 L294.20,453.1 L294.34,441.6 L294.48,448.5 L294.62,434.7 L294.76,443.9 L294.90,432.4 L295.04,439.3 L295.18,425.5 L295.33,439.3 L295.47,425.5 L295.61,434.7 L295.75,423.2 L295.89,434.7 L296.03,423.2 L296.17,437.0 L296.31,423.2 L296.45,437.0 L296.59,420.9 L296.73,432.4 L296.87,418.6 L297.01,432.4 L297.15,418.6 L297.29,430.1 L297.44,418.6 L297.58,427.8 L297.72,416.3 L297.86,427.8 L298.00,416.3 L298.14,430.1 L298.28,418.6 L298.42,425.5 L298.56,411.7 L298.70,425.5 L298.84,411.7 L298.98,423.2 L299.12,409.4 L299.26,423.2 L299.40,407.1 L299.55,418.6 L299.69,407.1 L299.83,420.9 L299.97,407.1 L300.11,420.9 L300.25,407.1 L300.39,418.6 L300.53,404.8 L300.67,418.6 L300.81,404.8 L300.95,416.3 L301.09,404.8 L301.23,416.3 L301.37,400.2 L301.51,414.0 L301.66,397.9 L301.80,411.7 L301.94,400.2 L302.08,414.0 L302.22,397.9 L302.36,409.4 L302.50,397.9 L302.64,411.7 L302.78,397.9 L302.92,409.4 L303.06,391.0 L303.20,404.8 L303.34,391.0 L303.48,404.8 L303.62,391.0 L303.77,400.2 L303.91,388.7 L304.05,402.5 L304.19,388.7 L304.33,397.9 L304.47,386.4 L304.61,395.6 L304.75,386.4 L304.90,297.8 L305.20,287.8 L305.55,299.8 L305.90,427.7 L306.20,452.7 L306.20,453.1 L306.34,441.6 L306.48,446.2 L306.62,434.7 L306.77,443.9 L306.91,432.4 L307.05,439.3 L307.19,425.5 L307.33,439.3 L307.47,425.5 L307.61,434.7 L307.76,423.2 L307.90,434.7 L308.04,423.2 L308.18,437.0 L308.32,423.2 L308.46,437.0 L308.60,420.9 L308.75,432.4 L308.89,420.9 L309.03,432.4 L309.17,418.6 L309.31,432.4 L309.45,418.6 L309.59,425.5 L309.74,416.3 L309.88,427.8 L310.02,414.0 L310.16,427.8 L310.30,414.0 L310.44,430.1 L310.58,411.7 L310.73,425.5 L310.87,411.7 L311.01,423.2 L311.15,411.7 L311.29,423.2 L311.43,409.4 L311.57,418.6 L311.72,407.1 L311.86,420.9 L312.00,407.1 L312.14,420.9 L312.28,409.4 L312.42,420.9 L312.57,404.8 L312.71,418.6 L312.85,404.8 L312.99,416.3 L313.13,402.5 L313.27,416.3 L313.41,402.5 L313.56,411.7 L313.70,397.9 L313.84,411.7 L313.98,400.2 L314.12,411.7 L314.26,400.2 L314.40,411.7 L314.55,397.9 L314.69,409.4 L314.83,397.9 L314.97,411.7 L315.11,395.6 L315.25,407.1 L315.39,391.0 L315.54,404.8 L315.68,391.0 L315.82,404.8 L315.96,388.7 L316.10,402.5 L316.24,388.7 L316.38,402.5 L316.53,384.1 L316.67,397.9 L316.81,386.4 L316.95,395.6 L317.10,302.3 L317.40,292.3 L317.75,304.3 L318.10,427.7 L318.40,452.7 L318.40,450.8 L318.54,441.6 L318.68,446.2 L318.82,434.7 L318.96,443.9 L319.10,430.1 L319.24,439.3 L319.38,425.5 L319.52,439.3 L319.67,425.5 L319.81,439.3 L319.95,425.5 L320.09,437.0 L320.23,423.2 L320.37,437.0 L320.51,423.2 L320.65,437.0 L320.79,423.2 L320.93,434.7 L321.07,420.9 L321.21,432.4 L321.35,418.6 L321.49,432.4 L321.63,418.6 L321.77,432.4 L321.91,418.6 L322.06,432.4 L322.20,414.0 L322.34,427.8 L322.48,416.3 L322.62,430.1 L322.76,416.3 L322.90,427.8 L323.04,416.3 L323.18,425.5 L323.32,409.4 L323.46,423.2 L323.60,409.4 L323.74,423.2 L323.88,409.4 L324.02,423.2 L324.16,411.7 L324.30,420.9 L324.45,407.1 L324.59,420.9 L324.73,409.4 L324.87,420.9 L325.01,407.1 L325.15,420.9 L325.29,407.1 L325.43,416.3 L325.57,404.8 L325.71,416.3 L325.85,402.5 L325.99,416.3 L326.13,402.5 L326.27,418.6 L326.41,404.8 L326.55,414.0 L326.69,400.2 L326.84,414.0 L326.98,400.2 L327.12,414.0 L327.26,400.2 L327.40,411.7 L327.54,397.9 L327.68,409.4 L327.82,395.6 L327.96,409.4 L328.10,393.3 L328.24,409.4 L328.38,395.6 L328.52,404.8 L328.66,393.3 L328.80,404.8 L328.94,393.3 L329.08,407.1 L329.23,388.7 L329.37,402.5 L329.51,388.7 L329.65,402.5 L329.79,384.1 L329.93,395.6 L330.07,386.4 L330.21,395.6 L330.35,386.4 L330.50,311.0 L330.80,301.0 L331.15,313.0 L331.50,425.0 L331.80,450.0 L331.80,448.5 L331.94,437.0 L332.08,443.9 L332.22,430.1 L332.37,441.6 L332.51,427.8 L332.65,439.3 L332.79,423.2 L332.93,437.0 L333.07,423.2 L333.22,437.0 L333.36,423.2 L333.50,434.7 L333.64,418.6 L333.78,430.1 L333.92,418.6 L334.07,432.4 L334.21,418.6 L334.35,432.4 L334.49,418.6 L334.63,432.4 L334.77,416.3 L334.91,427.8 L335.06,416.3 L335.20,430.1 L335.34,416.3 L335.48,427.8 L335.62,414.0 L335.76,423.2 L335.91,409.4 L336.05,423.2 L336.19,411.7 L336.33,423.2 L336.47,411.7 L336.61,425.5 L336.75,411.7 L336.90,420.9 L337.04,409.4 L337.18,420.9 L337.32,407.1 L337.46,420.9 L337.60,407.1 L337.75,418.6 L337.89,402.5 L338.03,416.3 L338.17,402.5 L338.31,416.3 L338.45,404.8 L338.60,416.3 L338.74,404.8 L338.88,418.6 L339.02,402.5 L339.16,414.0 L339.30,400.2 L339.44,414.0 L339.59,400.2 L339.73,414.0 L339.87,400.2 L340.01,407.1 L340.15,395.6 L340.29,407.1 L340.44,395.6 L340.58,409.4 L340.72,395.6 L340.86,409.4 L341.00,393.3 L341.14,407.1 L341.28,393.3 L341.43,404.8 L341.57,393.3 L341.71,404.8 L341.85,391.0 L341.99,400.2 L342.13,388.7 L342.28,400.2 L342.42,388.7 L342.56,400.2 L342.70,386.4 L342.84,397.9 L342.98,386.4 L343.13,397.9 L343.27,388.7 L343.41,393.3 L343.55,384.1 L343.70,293.2 L344.00,283.2 L344.35,295.2 L344.70,427.7 L345.00,452.7 L345.00,453.1 L345.14,441.6 L345.28,446.2 L345.42,434.7 L345.56,443.9 L345.70,430.1 L345.84,439.3 L345.98,425.5 L346.12,439.3 L346.26,425.5 L346.40,437.0 L346.54,423.2 L346.68,437.0 L346.82,425.5 L346.97,437.0 L347.11,425.5 L347.25,437.0 L347.39,418.6 L347.53,432.4 L347.67,418.6 L347.81,432.4 L347.95,418.6 L348.09,430.1 L348.23,418.6 L348.37,432.4 L348.51,414.0 L348.65,427.8 L348.79,416.3 L348.93,427.8 L349.07,416.3 L349.21,427.8 L349.35,416.3 L349.49,425.5 L349.63,411.7 L349.77,423.2 L349.91,409.4 L350.05,423.2 L350.19,409.4 L350.33,425.5 L350.48,407.1 L350.62,420.9 L350.76,407.1 L350.90,420.9 L351.04,409.4 L351.18,420.9 L351.32,407.1 L351.46,416.3 L351.60,402.5 L351.74,416.3 L351.88,402.5 L352.02,416.3 L352.16,402.5 L352.30,416.3 L352.44,400.2 L352.58,414.0 L352.72,400.2 L352.86,416.3 L353.00,400.2 L353.14,414.0 L353.28,402.5 L353.42,409.4 L353.56,397.9 L353.70,409.4 L353.84,395.6 L353.98,409.4 L354.12,395.6 L354.27,404.8 L354.41,391.0 L354.55,404.8 L354.69,391.0 L354.83,404.8 L354.97,388.7 L355.11,402.5 L355.25,388.7 L355.39,402.5 L355.53,386.4 L355.67,395.6 L355.81,386.4 L355.95,395.6 L356.10,302.3 L356.40,292.3 L356.75,304.3 L357.10,427.7 L357.40,452.7 L357.40,453.1 L357.54,441.6 L357.68,446.2 L357.82,434.7 L357.97,443.9 L358.11,430.1 L358.25,437.0 L358.39,425.5 L358.53,439.3 L358.67,427.8 L358.82,441.6 L358.96,423.2 L359.10,437.0 L359.24,425.5 L359.38,434.7 L359.52,425.5 L359.67,437.0 L359.81,423.2 L359.95,434.7 L360.09,418.6 L360.23,432.4 L360.37,418.6 L360.51,432.4 L360.66,418.6 L360.80,432.4 L360.94,418.6 L361.08,430.1 L361.22,416.3 L361.36,427.8 L361.51,416.3 L361.65,427.8 L361.79,414.0 L361.93,427.8 L362.07,414.0 L362.21,423.2 L362.35,409.4 L362.50,425.5 L362.64,411.7 L362.78,425.5 L362.92,411.7 L363.06,425.5 L363.20,407.1 L363.35,420.9 L363.49,409.4 L363.63,420.9 L363.77,407.1 L363.91,420.9 L364.05,407.1 L364.20,420.9 L364.34,402.5 L364.48,416.3 L364.62,404.8 L364.76,418.6 L364.90,404.8 L365.04,418.6 L365.19,404.8 L365.33,414.0 L365.47,400.2 L365.61,414.0 L365.75,400.2 L365.89,414.0 L366.04,397.9 L366.18,411.7 L366.32,395.6 L366.46,409.4 L366.60,395.6 L366.74,407.1 L366.88,395.6 L367.03,407.1 L367.17,397.9 L367.31,407.1 L367.45,393.3 L367.59,407.1 L367.73,393.3 L367.88,404.8 L368.02,388.7 L368.16,400.2 L368.30,388.7 L368.44,400.2 L368.58,384.1 L368.73,397.9 L368.87,384.1 L369.01,395.6 L369.15,388.7 L369.30,302.3 L369.60,292.3 L369.95,304.3 L370.30,427.7 L370.60,452.7 L370.60,450.8 L370.74,441.6 L370.88,446.2 L371.02,434.7 L371.17,443.9 L371.31,432.4 L371.45,439.3 L371.59,427.8 L371.73,439.3 L371.87,427.8 L372.02,439.3 L372.16,423.2 L372.30,434.7 L372.44,420.9 L372.58,434.7 L372.72,420.9 L372.87,437.0 L373.01,423.2 L373.15,437.0 L373.29,420.9 L373.43,434.7 L373.57,418.6 L373.71,432.4 L373.86,418.6 L374.00,430.1 L374.14,418.6 L374.28,427.8 L374.42,414.0 L374.56,427.8 L374.71,414.0 L374.85,427.8 L374.99,416.3 L375.13,430.1 L375.27,416.3 L375.41,425.5 L375.55,411.7 L375.70,425.5 L375.84,414.0 L375.98,425.5 L376.12,411.7 L376.26,423.2 L376.40,407.1 L376.55,418.6 L376.69,407.1 L376.83,420.9 L376.97,407.1 L377.11,423.2 L377.25,407.1 L377.40,420.9 L377.54,404.8 L377.68,418.6 L377.82,404.8 L377.96,418.6 L378.10,402.5 L378.24,416.3 L378.39,402.5 L378.53,411.7 L378.67,397.9 L378.81,414.0 L378.95,400.2 L379.09,414.0 L379.24,402.5 L379.38,414.0 L379.52,395.6 L379.66,409.4 L379.80,395.6 L379.94,409.4 L380.08,395.6 L380.23,409.4 L380.37,395.6 L380.51,402.5 L380.65,391.0 L380.79,404.8 L380.93,391.0 L381.08,404.8 L381.22,388.7 L381.36,402.5 L381.50,391.0 L381.64,404.8 L381.78,386.4 L381.93,397.9 L382.07,386.4 L382.21,397.9 L382.35,386.4 L382.50,302.3 L382.80,292.3 L383.15,304.3 L383.50,427.7 L383.80,452.7 L383.80,453.1 L383.94,441.6 L384.08,446.2 L384.23,432.4 L384.37,441.6 L384.51,427.8 L384.65,439.3 L384.79,425.5 L384.93,439.3 L385.07,425.5 L385.22,441.6 L385.36,423.2 L385.50,437.0 L385.64,425.5 L385.78,437.0 L385.93,425.5 L386.07,437.0 L386.21,418.6 L386.35,432.4 L386.49,416.3 L386.63,432.4 L386.78,416.3 L386.92,432.4 L387.06,420.9 L387.20,432.4 L387.34,414.0 L387.48,430.1 L387.62,416.3 L387.77,427.8 L387.91,416.3 L388.05,427.8 L388.19,414.0 L388.33,423.2 L388.48,411.7 L388.62,423.2 L388.76,409.4 L388.90,425.5 L389.04,411.7 L389.18,423.2 L389.33,407.1 L389.47,420.9 L389.61,407.1 L389.75,420.9 L389.89,407.1 L390.03,423.2 L390.18,409.4 L390.32,416.3 L390.46,402.5 L390.60,416.3 L390.74,402.5 L390.88,416.3 L391.03,402.5 L391.17,416.3 L391.31,400.2 L391.45,414.0 L391.59,402.5 L391.73,414.0 L391.88,400.2 L392.02,414.0 L392.16,400.2 L392.30,409.4 L392.44,395.6 L392.58,409.4 L392.73,395.6 L392.87,407.1 L393.01,395.6 L393.15,404.8 L393.29,393.3 L393.43,407.1 L393.58,393.3 L393.72,407.1 L393.86,388.7 L394.00,402.5 L394.14,388.7 L394.28,402.5 L394.43,386.4 L394.57,395.6 L394.71,386.4 L394.85,395.6 L395.00,302.3 L395.30,292.3 L395.65,304.3 L396.00,427.7 L396.30,452.7 L396.30,450.8 L396.44,441.6 L396.58,446.2 L396.72,432.4 L396.87,441.6 L397.01,430.1 L397.15,441.6 L397.29,425.5 L397.43,441.6 L397.57,427.8 L397.72,441.6 L397.86,423.2 L398.00,437.0 L398.14,423.2 L398.28,437.0 L398.42,423.2 L398.57,434.7 L398.71,423.2 L398.85,434.7 L398.99,418.6 L399.13,432.4 L399.27,418.6 L399.41,432.4 L399.56,418.6 L399.70,432.4 L399.84,420.9 L399.98,430.1 L400.12,416.3 L400.26,430.1 L400.41,414.0 L400.55,425.5 L400.69,414.0 L400.83,427.8 L400.97,414.0 L401.11,425.5 L401.25,411.7 L401.40,425.5 L401.54,411.7 L401.68,425.5 L401.82,414.0 L401.96,425.5 L402.10,409.4 L402.25,420.9 L402.39,409.4 L402.53,420.9 L402.67,407.1 L402.81,418.6 L402.95,407.1 L403.10,420.9 L403.24,402.5 L403.38,416.3 L403.52,404.8 L403.66,418.6 L403.80,404.8 L403.94,418.6 L404.09,404.8 L404.23,411.7 L404.37,400.2 L404.51,414.0 L404.65,400.2 L404.79,411.7 L404.94,400.2 L405.08,411.7 L405.22,395.6 L405.36,409.4 L405.50,395.6 L405.64,411.7 L405.78,397.9 L405.93,411.7 L406.07,397.9 L406.21,404.8 L406.35,393.3 L406.49,404.8 L406.63,391.0 L406.78,404.8 L406.92,388.7 L407.06,400.2 L407.20,386.4 L407.34,400.2 L407.48,386.4 L407.63,397.9 L407.77,388.7 L407.91,395.6 L408.05,386.4 L408.20,302.3 L408.50,292.3 L408.85,304.3 L409.20,427.7 L409.50,452.7 L409.50,450.8 L409.64,441.6 L409.78,448.5 L409.92,437.0 L410.06,446.2 L410.20,432.4 L410.35,443.9 L410.49,427.8 L410.63,439.3 L410.77,425.5 L410.91,439.3 L411.05,427.8 L411.19,439.3 L411.33,420.9 L411.47,434.7 L411.61,423.2 L411.76,437.0 L411.90,423.2 L412.04,437.0 L412.18,423.2 L412.32,437.0 L412.46,418.6 L412.60,430.1 L412.74,418.6 L412.88,430.1 L413.02,418.6 L413.16,430.1 L413.31,418.6 L413.45,432.4 L413.59,416.3 L413.73,430.1 L413.87,416.3 L414.01,430.1 L414.15,416.3 L414.29,427.8 L414.43,416.3 L414.57,427.8 L414.72,414.0 L414.86,423.2 L415.00,411.7 L415.14,423.2 L415.28,411.7 L415.42,425.5 L415.56,411.7 L415.70,425.5 L415.84,411.7 L415.98,425.5 L416.12,407.1 L416.27,420.9 L416.41,407.1 L416.55,420.9 L416.69,407.1 L416.83,418.6 L416.97,404.8 L417.11,420.9 L417.25,402.5 L417.39,416.3 L417.53,404.8 L417.68,418.6 L417.82,404.8 L417.96,416.3 L418.10,402.5 L418.24,416.3 L418.38,404.8 L418.52,414.0 L418.66,400.2 L418.80,411.7 L418.94,400.2 L419.09,411.7 L419.23,400.2 L419.37,411.7 L419.51,400.2 L419.65,409.4 L419.79,397.9 L419.93,411.7 L420.07,397.9 L420.21,411.7 L420.35,395.6 L420.49,409.4 L420.64,391.0 L420.78,404.8 L420.92,391.0 L421.06,404.8 L421.20,393.3 L421.34,404.8 L421.48,388.7 L421.62,402.5 L421.76,388.7 L421.90,404.8 L422.05,391.0 L422.19,397.9 L422.33,386.4 L422.47,397.9 L422.61,388.7 L422.75,395.6 L422.90,302.3 L423.20,292.3 L423.55,304.3 L423.90,427.7 L424.20,452.7 L424.20,453.1 L424.34,441.6 L424.48,448.5 L424.62,434.7 L424.76,443.9 L424.90,430.1 L425.05,441.6 L425.19,425.5 L425.33,437.0 L425.47,425.5 L425.61,439.3 L425.75,427.8 L425.89,441.6 L426.03,423.2 L426.17,437.0 L426.31,423.2 L426.46,437.0 L426.60,423.2 L426.74,434.7 L426.88,423.2 L427.02,434.7 L427.16,418.6 L427.30,430.1 L427.44,418.6 L427.58,432.4 L427.72,418.6 L427.86,432.4 L428.01,420.9 L428.15,432.4 L428.29,416.3 L428.43,427.8 L428.57,416.3 L428.71,427.8 L428.85,414.0 L428.99,427.8 L429.13,414.0 L429.27,427.8 L429.42,414.0 L429.56,425.5 L429.70,411.7 L429.84,425.5 L429.98,411.7 L430.12,427.8 L430.26,411.7 L430.40,425.5 L430.54,411.7 L430.68,423.2 L430.82,407.1 L430.97,420.9 L431.11,407.1 L431.25,418.6 L431.39,407.1 L431.53,420.9 L431.67,407.1 L431.81,420.9 L431.95,404.8 L432.09,416.3 L432.23,404.8 L432.38,418.6 L432.52,404.8 L432.66,418.6 L432.80,402.5 L432.94,416.3 L433.08,402.5 L433.22,411.7 L433.36,400.2 L433.50,411.7 L433.64,400.2 L433.79,411.7 L433.93,400.2 L434.07,414.0 L434.21,400.2 L434.35,409.4 L434.49,397.9 L434.63,407.1 L434.77,395.6 L434.91,407.1 L435.05,395.6 L435.19,407.1 L435.34,391.0 L435.48,404.8 L435.62,391.0 L435.76,407.1 L435.90,393.3 L436.04,407.1 L436.18,388.7 L436.32,402.5 L436.46,391.0 L436.60,402.5 L436.75,391.0 L436.89,395.6 L437.03,384.1 L437.17,395.6 L437.31,386.4 L437.45,395.6 L437.60,306.6 L437.90,296.6 L438.25,308.6 L438.60,432.8 L438.90,457.8 L438.90,457.7 L439.04,446.2 L439.18,450.8 L439.32,439.3 L439.46,448.5 L439.60,437.0 L439.74,448.5 L439.88,434.7 L440.02,446.2 L440.16,432.4 L440.30,446.2 L440.44,432.4 L440.58,443.9 L440.72,430.1 L440.86,443.9 L441.00,427.8 L441.14,443.9 L441.28,425.5 L441.42,439.3 L441.56,425.5 L441.70,439.3 L441.84,425.5 L441.98,439.3 L442.12,427.8 L442.26,441.6 L442.40,427.8 L442.54,437.0 L442.68,423.2 L442.82,437.0 L442.96,423.2 L443.10,434.7 L443.24,420.9 L443.38,434.7 L443.52,420.9 L443.66,437.0 L443.80,418.6 L443.94,432.4 L444.08,420.9 L444.22,432.4 L444.36,420.9 L444.50,434.7 L444.64,418.6 L444.78,432.4 L444.92,418.6 L445.06,427.8 L445.20,414.0 L445.34,427.8 L445.48,414.0 L445.62,425.5 L445.76,414.0 L445.90,427.8 L446.05,416.3 L446.19,430.1 L446.33,411.7 L446.47,425.5 L446.61,411.7 L446.75,425.5 L446.89,411.7 L447.03,423.2 L447.17,409.4 L447.31,423.2 L447.45,411.7 L447.59,420.9 L447.73,407.1 L447.87,420.9 L448.01,409.4 L448.15,420.9 L448.29,409.4 L448.43,420.9 L448.57,407.1 L448.71,420.9 L448.85,404.8 L448.99,418.6 L449.13,402.5 L449.27,416.3 L449.41,402.5 L449.55,416.3 L449.69,404.8 L449.83,416.3 L449.97,404.8 L450.11,414.0 L450.25,400.2 L450.39,414.0 L450.53,402.5 L450.67,414.0 L450.81,400.2 L450.95,411.7 L451.09,395.6 L451.23,409.4 L451.37,393.3 L451.51,409.4 L451.65,395.6 L451.79,407.1 L451.93,393.3 L452.07,404.8 L452.21,393.3 L452.35,407.1 L452.49,393.3 L452.63,407.1 L452.77,391.0 L452.91,400.2 L453.05,391.0 L453.20,306.6 L453.50,296.6 L453.85,308.6 L454.20,427.7 L454.50,452.7 L454.50,453.1 L454.64,441.6 L454.78,448.5 L454.92,434.7 L455.06,443.9 L455.20,430.1 L455.35,441.6 L455.49,425.5 L455.63,439.3 L455.77,425.5 L455.91,439.3 L456.05,427.8 L456.19,439.3 L456.33,423.2 L456.47,437.0 L456.61,425.5 L456.76,437.0 L456.90,425.5 L457.04,437.0 L457.18,423.2 L457.32,434.7 L457.46,418.6 L457.60,430.1 L457.74,418.6 L457.88,430.1 L458.02,418.6 L458.16,430.1 L458.31,420.9 L458.45,432.4 L458.59,416.3 L458.73,430.1 L458.87,416.3 L459.01,427.8 L459.15,416.3 L459.29,427.8 L459.43,414.0 L459.57,427.8 L459.72,414.0 L459.86,423.2 L460.00,411.7 L460.14,425.5 L460.28,411.7 L460.42,425.5 L460.56,411.7 L460.70,425.5 L460.84,414.0 L460.98,425.5 L461.12,407.1 L461.27,418.6 L461.41,407.1 L461.55,418.6 L461.69,407.1 L461.83,420.9 L461.97,407.1 L462.11,420.9 L462.25,404.8 L462.39,416.3 L462.53,404.8 L462.68,418.6 L462.82,404.8 L462.96,418.6 L463.10,402.5 L463.24,416.3 L463.38,402.5 L463.52,411.7 L463.66,400.2 L463.80,414.0 L463.94,400.2 L464.09,411.7 L464.23,400.2 L464.37,414.0 L464.51,400.2 L464.65,409.4 L464.79,395.6 L464.93,409.4 L465.07,397.9 L465.21,409.4 L465.35,395.6 L465.49,409.4 L465.64,391.0 L465.78,404.8 L465.92,393.3 L466.06,404.8 L466.20,393.3 L466.34,407.1 L466.48,388.7 L466.62,402.5 L466.76,388.7 L466.90,404.8 L467.05,388.7 L467.19,395.6 L467.33,384.1 L467.47,395.6 L467.61,386.4 L467.75,393.3 L467.90,302.3 L468.20,292.3 L468.55,304.3 L468.90,427.7 L469.20,452.7 L469.20,453.1 L469.34,439.3 L469.48,448.5 L469.62,434.7 L469.76,443.9 L469.90,430.1 L470.04,441.6 L470.19,425.5 L470.33,439.3 L470.47,427.8 L470.61,439.3 L470.75,427.8 L470.89,441.6 L471.03,423.2 L471.17,434.7 L471.31,423.2 L471.45,434.7 L471.59,423.2 L471.73,434.7 L471.87,420.9 L472.02,434.7 L472.16,418.6 L472.30,430.1 L472.44,418.6 L472.58,432.4 L472.72,420.9 L472.86,432.4 L473.00,420.9 L473.14,432.4 L473.28,416.3 L473.42,430.1 L473.56,414.0 L473.70,427.8 L473.85,414.0 L473.99,427.8 L474.13,414.0 L474.27,427.8 L474.41,411.7 L474.55,425.5 L474.69,414.0 L474.83,425.5 L474.97,411.7 L475.11,425.5 L475.25,409.4 L475.39,425.5 L475.53,411.7 L475.68,418.6 L475.82,404.8 L475.96,418.6 L476.10,407.1 L476.24,420.9 L476.38,407.1 L476.52,420.9 L476.66,407.1 L476.80,418.6 L476.94,404.8 L477.08,418.6 L477.22,404.8 L477.36,416.3 L477.50,404.8 L477.65,416.3 L477.79,402.5 L477.93,411.7 L478.07,397.9 L478.21,414.0 L478.35,400.2 L478.49,414.0 L478.63,402.5 L478.77,414.0 L478.91,400.2 L479.05,411.7 L479.19,395.6 L479.33,409.4 L479.48,395.6 L479.62,409.4 L479.76,393.3 L479.90,409.4 L480.04,391.0 L480.18,404.8 L480.32,393.3 L480.46,404.8 L480.60,393.3 L480.74,407.1 L480.88,388.7 L481.02,402.5 L481.16,388.7 L481.31,400.2 L481.45,386.4 L481.59,395.6 L481.73,384.1 L481.87,395.6 L482.01,386.4 L482.15,395.6 L482.30,306.6 L482.60,296.6 L482.95,308.6 L483.30,427.7 L483.60,452.7 L483.60,453.1 L483.74,441.6 L483.88,446.2 L484.02,434.7 L484.16,443.9 L484.31,430.1 L484.45,443.9 L484.59,427.8 L484.73,439.3 L484.87,427.8 L485.01,441.6 L485.15,427.8 L485.29,437.0 L485.44,423.2 L485.58,434.7 L485.72,423.2 L485.86,434.7 L486.00,420.9 L486.14,437.0 L486.28,420.9 L486.42,430.1 L486.57,418.6 L486.71,432.4 L486.85,420.9 L486.99,434.7 L487.13,420.9 L487.27,432.4 L487.41,418.6 L487.55,432.4 L487.70,414.0 L487.84,425.5 L487.98,414.0 L488.12,425.5 L488.26,414.0 L488.40,427.8 L488.54,414.0 L488.68,430.1 L488.82,411.7 L488.97,425.5 L489.11,411.7 L489.25,423.2 L489.39,411.7 L489.53,423.2 L489.67,411.7 L489.81,423.2 L489.95,407.1 L490.10,418.6 L490.24,407.1 L490.38,420.9 L490.52,407.1 L490.66,420.9 L490.80,409.4 L490.94,420.9 L491.08,404.8 L491.23,418.6 L491.37,404.8 L491.51,416.3 L491.65,402.5 L491.79,416.3 L491.93,402.5 L492.07,416.3 L492.21,402.5 L492.35,411.7 L492.50,400.2 L492.64,414.0 L492.78,400.2 L492.92,414.0 L493.06,402.5 L493.20,414.0 L493.34,402.5 L493.48,409.4 L493.63,395.6 L493.77,407.1 L493.91,395.6 L494.05,409.4 L494.19,395.6 L494.33,407.1 L494.47,391.0 L494.61,404.8 L494.76,393.3 L494.90,407.1 L495.04,395.6 L495.18,402.5 L495.32,388.7 L495.46,402.5 L495.60,386.4 L495.74,402.5 L495.89,384.1 L496.03,395.6 L496.17,384.1 L496.31,395.6 L496.45,386.4 L496.60,306.6 L496.90,296.6 L497.25,308.6 L497.60,427.7 L497.90,452.7 L497.90,450.8 L498.04,439.3 L498.18,446.2 L498.32,434.7 L498.46,443.9 L498.60,432.4 L498.74,446.2 L498.89,427.8 L499.03,441.6 L499.17,427.8 L499.31,441.6 L499.45,427.8 L499.59,441.6 L499.73,423.2 L499.87,434.7 L500.01,420.9 L500.15,434.7 L500.29,420.9 L500.43,434.7 L500.57,423.2 L500.72,434.7 L500.86,420.9 L501.00,434.7 L501.14,418.6 L501.28,432.4 L501.42,420.9 L501.56,432.4 L501.70,418.6 L501.84,432.4 L501.98,414.0 L502.12,427.8 L502.26,414.0 L502.40,427.8 L502.55,414.0 L502.69,427.8 L502.83,416.3 L502.97,427.8 L503.11,411.7 L503.25,425.5 L503.39,411.7 L503.53,425.5 L503.67,411.7 L503.81,423.2 L503.95,409.4 L504.09,423.2 L504.23,411.7 L504.38,418.6 L504.52,407.1 L504.66,420.9 L504.80,407.1 L504.94,423.2 L505.08,409.4 L505.22,423.2 L505.36,409.4 L505.50,418.6 L505.64,402.5 L505.78,416.3 L505.92,402.5 L506.06,416.3 L506.20,402.5 L506.35,414.0 L506.49,402.5 L506.63,411.7 L506.77,400.2 L506.91,414.0 L507.05,400.2 L507.19,414.0 L507.33,400.2 L507.47,414.0 L507.61,400.2 L507.75,409.4 L507.89,395.6 L508.03,409.4 L508.18,395.6 L508.32,409.4 L508.46,397.9 L508.60,409.4 L508.74,393.3 L508.88,404.8 L509.02,393.3 L509.16,404.8 L509.30,393.3 L509.44,404.8 L509.58,388.7 L509.72,402.5 L509.86,386.4 L510.01,402.5 L510.15,388.7 L510.29,397.9 L510.43,386.4 L510.57,395.6 L510.71,386.4 L510.85,395.6 L511.00,306.6 L511.30,296.6 L511.65,308.6 L512.00,427.7 L512.30,452.7 L512.30,450.8 L512.44,441.6 L512.58,446.2 L512.72,434.7 L512.86,443.9 L513.00,430.1 L513.14,439.3 L513.29,427.8 L513.43,439.3 L513.57,427.8 L513.71,441.6 L513.85,427.8 L513.99,434.7 L514.13,423.2 L514.27,434.7 L514.41,423.2 L514.55,434.7 L514.69,423.2 L514.83,437.0 L514.98,418.6 L515.12,432.4 L515.26,420.9 L515.40,432.4 L515.54,420.9 L515.68,432.4 L515.82,418.6 L515.96,430.1 L516.10,414.0 L516.24,427.8 L516.38,414.0 L516.52,427.8 L516.66,414.0 L516.81,425.5 L516.95,414.0 L517.09,430.1 L517.23,414.0 L517.37,425.5 L517.51,411.7 L517.65,425.5 L517.79,411.7 L517.93,423.2 L518.07,411.7 L518.21,423.2 L518.35,407.1 L518.50,418.6 L518.64,407.1 L518.78,420.9 L518.92,409.4 L519.06,420.9 L519.20,409.4 L519.34,423.2 L519.48,404.8 L519.62,416.3 L519.76,404.8 L519.90,416.3 L520.04,404.8 L520.19,416.3 L520.33,402.5 L520.47,416.3 L520.61,400.2 L520.75,411.7 L520.89,400.2 L521.03,414.0 L521.17,400.2 L521.31,414.0 L521.45,400.2 L521.59,411.7 L521.73,397.9 L521.87,409.4 L522.02,395.6 L522.16,409.4 L522.30,395.6 L522.44,407.1 L522.58,391.0 L522.72,404.8 L522.86,391.0 L523.00,404.8 L523.14,391.0 L523.28,407.1 L523.42,388.7 L523.56,402.5 L523.71,391.0 L523.85,402.5 L523.99,384.1 L524.13,397.9 L524.27,386.4 L524.41,395.6 L524.55,386.4 L524.70,302.3 L525.00,292.3 L525.35,304.3 L525.70,427.7 L526.00,452.7 L526.00,453.1 L526.14,441.6 L526.28,446.2 L526.42,434.7 L526.56,443.9 L526.70,430.1 L526.84,443.9 L526.98,427.8 L527.12,439.3 L527.26,427.8 L527.40,441.6 L527.54,427.8 L527.68,441.6 L527.82,423.2 L527.96,437.0 L528.10,423.2 L528.25,437.0 L528.39,423.2 L528.53,434.7 L528.67,423.2 L528.81,434.7 L528.95,418.6 L529.09,432.4 L529.23,418.6 L529.37,432.4 L529.51,420.9 L529.65,432.4 L529.79,420.9 L529.93,434.7 L530.07,416.3 L530.21,427.8 L530.35,414.0 L530.49,427.8 L530.63,414.0 L530.77,427.8 L530.91,416.3 L531.05,427.8 L531.19,416.3 L531.33,425.5 L531.47,411.7 L531.61,425.5 L531.75,414.0 L531.89,425.5 L532.03,409.4 L532.17,423.2 L532.31,409.4 L532.45,420.9 L532.60,407.1 L532.74,420.9 L532.88,409.4 L533.02,418.6 L533.16,409.4 L533.30,420.9 L533.44,407.1 L533.58,423.2 L533.72,404.8 L533.86,416.3 L534.00,402.5 L534.14,416.3 L534.28,404.8 L534.42,416.3 L534.56,402.5 L534.70,416.3 L534.84,400.2 L534.98,414.0 L535.12,397.9 L535.26,414.0 L535.40,400.2 L535.54,414.0 L535.68,400.2 L535.82,414.0 L535.96,397.9 L536.10,409.4 L536.24,395.6 L536.38,407.1 L536.52,395.6 L536.66,409.4 L536.80,395.6 L536.95,407.1 L537.09,391.0 L537.23,404.8 L537.37,393.3 L537.51,407.1 L537.65,393.3 L537.79,402.5 L537.93,391.0 L538.07,402.5 L538.21,388.7 L538.35,402.5 L538.49,384.1 L538.63,397.9 L538.77,386.4 L538.91,395.6 L539.05,386.4 L539.20,315.0 L539.50,305.0 L539.85,317.0 L540.20,424.0 L540.50,449.0 L540.50,448.5 L540.64,437.0 L540.78,441.6 L540.92,427.8 L541.07,439.3 L541.21,423.2 L541.35,437.0 L541.49,423.2 L541.63,437.0 L541.77,423.2 L541.91,432.4 L542.05,418.6 L542.20,430.1 L542.34,418.6 L542.48,432.4 L542.62,418.6 L542.76,427.8 L542.90,414.0 L543.04,427.8 L543.18,416.3 L543.33,427.8 L543.47,416.3 L543.61,425.5 L543.75,411.7 L543.89,425.5 L544.03,411.7 L544.17,425.5 L544.32,411.7 L544.46,418.6 L544.60,407.1 L544.74,420.9 L544.88,409.4 L545.02,420.9 L545.16,407.1 L545.30,420.9 L545.45,404.8 L545.59,418.6 L545.73,404.8 L545.87,418.6 L546.01,402.5 L546.15,416.3 L546.29,400.2 L546.43,414.0 L546.58,397.9 L546.72,411.7 L546.86,400.2 L547.00,414.0 L547.14,395.6 L547.28,409.4 L547.42,397.9 L547.57,409.4 L547.71,397.9 L547.85,411.7 L547.99,393.3 L548.13,407.1 L548.27,393.3 L548.41,404.8 L548.55,391.0 L548.70,400.2 L548.84,386.4 L548.98,400.2 L549.12,388.7 L549.26,402.5 L549.40,386.4 L549.54,397.9 L549.68,386.4 L549.83,395.6 L549.97,381.8 L550.11,393.3 L550.25,384.1 L550.40,302.3 L550.70,292.3 L551.05,304.3 L551.40,427.7 L551.70,452.7 L551.70,453.1 L551.84,439.3 L551.98,446.2 L552.13,432.4 L552.27,443.9 L552.41,425.5 L552.55,439.3 L552.69,425.5 L552.83,439.3 L552.98,425.5 L553.12,437.0 L553.26,423.2 L553.40,434.7 L553.54,423.2 L553.69,437.0 L553.83,418.6 L553.97,432.4 L554.11,418.6 L554.25,432.4 L554.39,420.9 L554.54,432.4 L554.68,414.0 L554.82,427.8 L554.96,414.0 L555.10,427.8 L555.25,414.0 L555.39,430.1 L555.53,411.7 L555.67,425.5 L555.81,414.0 L555.95,425.5 L556.10,411.7 L556.24,425.5 L556.38,409.4 L556.52,420.9 L556.66,407.1 L556.80,418.6 L556.95,407.1 L557.09,418.6 L557.23,402.5 L557.37,418.6 L557.51,402.5 L557.66,418.6 L557.80,404.8 L557.94,416.3 L558.08,402.5 L558.22,414.0 L558.36,400.2 L558.51,411.7 L558.65,400.2 L558.79,409.4 L558.93,393.3 L559.07,409.4 L559.22,395.6 L559.36,404.8 L559.50,393.3 L559.64,404.8 L559.78,393.3 L559.92,402.5 L560.07,388.7 L560.21,402.5 L560.35,391.0 L560.50,302.3 L560.80,292.3 L561.15,304.3 L561.50,424.0 L561.80,449.0 L561.80,448.5 L561.94,437.0 L562.08,441.6 L562.22,430.1 L562.36,439.3 L562.51,423.2 L562.65,434.7 L562.79,420.9 L562.93,434.7 L563.07,420.9 L563.21,430.1 L563.35,418.6 L563.49,430.1 L563.63,418.6 L563.77,432.4 L563.92,416.3 L564.06,430.1 L564.20,416.3 L564.34,427.8 L564.48,416.3 L564.62,427.8 L564.76,414.0 L564.90,423.2 L565.04,409.4 L565.19,423.2 L565.33,409.4 L565.47,425.5 L565.61,411.7 L565.75,420.9 L565.89,409.4 L566.03,420.9 L566.17,409.4 L566.31,420.9 L566.45,407.1 L566.60,416.3 L566.74,402.5 L566.88,416.3 L567.02,402.5 L567.16,416.3 L567.30,402.5 L567.44,414.0 L567.58,400.2 L567.72,411.7 L567.86,400.2 L568.01,414.0 L568.15,400.2 L568.29,409.4 L568.43,397.9 L568.57,409.4 L568.71,395.6 L568.85,409.4 L568.99,395.6 L569.13,404.8 L569.28,391.0 L569.42,404.8 L569.56,393.3 L569.70,407.1 L569.84,391.0 L569.98,402.5 L570.12,388.7 L570.26,402.5 L570.40,386.4 L570.54,397.9 L570.69,386.4 L570.83,397.9 L570.97,381.8 L571.11,391.0 L571.25,381.8 L571.40,297.8 L571.70,287.8 L572.05,299.8 L572.40,427.7 L572.70,452.7 L572.70,450.8 L572.84,441.6 L572.98,446.2 L573.12,434.7 L573.26,443.9 L573.40,432.4 L573.54,441.6 L573.68,430.1 L573.82,441.6 L573.96,427.8 L574.10,439.3 L574.24,427.8 L574.38,439.3 L574.52,425.5 L574.66,434.7 L574.80,423.2 L574.94,434.7 L575.08,420.9 L575.22,434.7 L575.36,420.9 L575.50,434.7 L575.64,420.9 L575.78,432.4 L575.92,420.9 L576.06,432.4 L576.20,420.9 L576.34,432.4 L576.48,418.6 L576.62,432.4 L576.76,416.3 L576.90,430.1 L577.04,416.3 L577.18,427.8" fill="none" stroke="#000" stroke-width="1.2" stroke-linejoin="miter"/>
<path d="M584.9,163.5 V236.2 H462.2" fill="none" stroke="#111" stroke-width="1.4"/>
<path d="M750.4,360.3 H778.6" fill="none" stroke="#111" stroke-width="1.7"/>
<path d="M614.3,432.9 C618.4,431.8 632.7,427.9 640.0,426.0 C647.3,424.1 654.4,422.8 660.0,420.9 C665.6,419.0 672.3,415.9 675.2,414.3 C678.1,412.7 677.3,412.5 678.0,411.0 C678.7,409.5 679.3,407.6 679.8,405.0 C680.3,402.4 680.6,404.6 681.3,395.0 C682.0,385.4 683.4,360.5 684.2,345.0 C685.0,329.5 686.1,306.6 686.6,298.0 C687.1,289.4 686.9,291.1 687.1,291.1 C687.3,291.1 687.2,289.4 687.7,298.0 C688.2,306.6 689.5,329.5 690.0,345.0 C690.5,360.5 690.6,382.1 691.0,395.0 C691.4,407.9 691.9,418.7 692.5,425.5 C693.1,432.3 693.7,434.6 694.5,437.6 C695.3,440.6 696.3,442.9 697.6,444.3 C698.9,445.7 700.6,446.2 702.6,446.3 C704.6,446.4 706.4,445.8 710.0,444.8 C713.6,443.8 720.2,441.8 725.0,440.3 C729.8,438.8 734.1,437.2 740.0,435.6 C745.9,434.0 754.8,432.0 762.0,430.5 C769.2,429.0 781.3,426.7 785.0,426.0" fill="none" stroke="#3a3a3a" stroke-width="1.1" stroke-linejoin="round"/>
<path d="M614.3,433.1 C618.4,431.8 632.7,427.4 640.0,425.2 C647.3,423.0 654.4,421.4 660.0,419.4 C665.6,417.4 672.3,414.4 675.2,412.8 C678.1,411.2 677.3,411.1 678.0,409.5 C678.7,407.9 679.3,405.6 679.8,403.0 C680.3,400.4 680.6,402.6 681.3,393.0 C682.0,383.4 683.4,357.4 684.2,343.0 C685.0,328.6 686.1,310.4 686.5,303.0 C686.9,295.6 686.8,296.5 687.0,296.5 C687.2,296.5 687.1,295.2 687.6,303.0 C688.1,310.8 689.4,330.3 689.9,345.0 C690.4,359.7 690.6,381.9 691.0,395.0 C691.4,408.1 691.9,419.8 692.5,427.0 C693.1,434.2 693.6,436.6 694.5,440.0 C695.4,443.4 696.5,446.6 698.0,448.3 C699.5,450.0 701.5,450.8 703.7,450.8 C705.9,450.8 708.6,449.6 712.0,448.2 C715.4,446.8 720.5,443.8 725.0,441.8 C729.5,439.8 734.1,437.5 740.0,435.4 C745.9,433.3 754.8,430.6 762.0,428.6 C769.2,426.6 781.3,423.9 785.0,423.0" fill="none" stroke="#e3202c" stroke-width="1.1" stroke-linejoin="round"/>
<g font-family="'Liberation Sans', Arial, Helvetica, sans-serif" fill="#111" stroke="#111" stroke-width="0.3" style="filter:grayscale(1)">
<rect x="101.7" y="633.4" width="60.5" height="155.9" fill="#000"/>
<rect x="173.4" y="636.3" width="57.1" height="153.0" fill="#fff" stroke="#000" stroke-width="2.4"/>
<path d="M132.9,633.4 V597.8 M128.70000000000002,597.8 H137.1" stroke="#000" stroke-width="1.5" fill="none"/>
<path d="M202,635.1 V596.5 M197.8,596.5 H206.2" stroke="#000" stroke-width="1.5" fill="none"/>
<path d="M97.7,516.0 V789.3" stroke="#000" stroke-width="2.5" fill="none"/>
<path d="M92.2,789.3 H242.2" stroke="#000" stroke-width="2.5" fill="none"/>
<path d="M92.2,516.9 H97.7" stroke="#000" stroke-width="2.1" fill="none"/>
<text transform="translate(83.6,524.0) scale(1.06,1.0)" font-size="24" text-anchor="end">100</text>
<path d="M92.2,570.5 H97.7" stroke="#000" stroke-width="2.1" fill="none"/>
<text transform="translate(83.6,577.6) scale(1.06,1.0)" font-size="24" text-anchor="end">80</text>
<path d="M92.2,624.6 H97.7" stroke="#000" stroke-width="2.1" fill="none"/>
<text transform="translate(83.6,631.7) scale(1.06,1.0)" font-size="24" text-anchor="end">60</text>
<path d="M92.2,679.5 H97.7" stroke="#000" stroke-width="2.1" fill="none"/>
<text transform="translate(83.6,686.6) scale(1.06,1.0)" font-size="24" text-anchor="end">40</text>
<path d="M92.2,734 H97.7" stroke="#000" stroke-width="2.1" fill="none"/>
<text transform="translate(83.6,741.1) scale(1.06,1.0)" font-size="24" text-anchor="end">20</text>
<path d="M92.2,789.3 H97.7" stroke="#000" stroke-width="2.1" fill="none"/>
<text transform="translate(83.6,796.4) scale(1.06,1.0)" font-size="24" text-anchor="end">0</text>
<text transform="translate(132,822) scale(1.04,1.0)" font-size="24" text-anchor="middle">Ctrl</text>
<text transform="translate(202.8,822) scale(1.04,1.0)" font-size="24" text-anchor="middle">RP</text>
<text transform="translate(22,653.8) rotate(-90) scale(1.03,1)" font-size="25" text-anchor="middle">Frequency (Hz)</text>
</g>
<g font-family="'Liberation Sans', Arial, Helvetica, sans-serif" fill="#111" stroke="#111" stroke-width="0.3" style="filter:grayscale(1)">
<rect x="367.7" y="576.4" width="67.9" height="214.6" fill="#000"/>
<rect x="446.4" y="574.7" width="65.5" height="216.3" fill="#fff" stroke="#000" stroke-width="2.4"/>
<path d="M402.4,576.4 V545.2 M398.2,545.2 H406.59999999999997" stroke="#000" stroke-width="1.5" fill="none"/>
<path d="M479.6,573.5 V539 M475.40000000000003,539 H483.8" stroke="#000" stroke-width="1.5" fill="none"/>
<path d="M364.6,524.5 V791" stroke="#000" stroke-width="2.5" fill="none"/>
<path d="M358.9,791 H522.7" stroke="#000" stroke-width="2.5" fill="none"/>
<path d="M358.9,525.4 H364.6" stroke="#000" stroke-width="2.1" fill="none"/>
<text transform="translate(349.6,534.3) scale(1.06,1.0)" font-size="24" text-anchor="end">30</text>
<path d="M358.9,613.8 H364.6" stroke="#000" stroke-width="2.1" fill="none"/>
<text transform="translate(349.6,622.6999999999999) scale(1.06,1.0)" font-size="24" text-anchor="end">20</text>
<path d="M358.9,701.9 H364.6" stroke="#000" stroke-width="2.1" fill="none"/>
<text transform="translate(349.6,710.8) scale(1.06,1.0)" font-size="24" text-anchor="end">10</text>
<path d="M358.9,791 H364.6" stroke="#000" stroke-width="2.1" fill="none"/>
<text transform="translate(349.6,799.9) scale(1.06,1.0)" font-size="24" text-anchor="end">0</text>
<text transform="translate(403.3,823) scale(1.04,1.0)" font-size="24" text-anchor="middle">Ctrl</text>
<text transform="translate(477,823) scale(1.04,1.0)" font-size="24" text-anchor="middle">RP</text>
<text transform="translate(302.5,659.6) rotate(-90) scale(1.03,1)" font-size="25" text-anchor="middle">AP peak (mV)</text>
</g>
<g font-family="'Liberation Sans', Arial, Helvetica, sans-serif" fill="#111" stroke="#111" stroke-width="0.3" style="filter:grayscale(1)">
<rect x="638.0" y="578.3" width="63.6" height="211.8" fill="#000"/>
<rect x="709.7" y="571.0" width="61.6" height="219.1" fill="#fff" stroke="#000" stroke-width="2.4"/>
<path d="M670.6,578.3 V554.6 M666.4,554.6 H674.8000000000001" stroke="#000" stroke-width="1.5" fill="none"/>
<path d="M741,569.8 V558.2 M736.8,558.2 H745.2" stroke="#000" stroke-width="1.5" fill="none"/>
<path d="M634.6,551.0 V790.1" stroke="#000" stroke-width="2.5" fill="none"/>
<path d="M628.3,790.1 H780.4" stroke="#000" stroke-width="2.5" fill="none"/>
<path d="M628.3,551.9 H634.6" stroke="#000" stroke-width="2.1" fill="none"/>
<text transform="translate(620.2,560.1) scale(1.06,1.0)" font-size="24" text-anchor="end">–5</text>
<path d="M628.3,599.9 H634.6" stroke="#000" stroke-width="2.1" fill="none"/>
<text transform="translate(620.2,608.1) scale(1.06,1.0)" font-size="24" text-anchor="end">–4</text>
<path d="M628.3,646.8 H634.6" stroke="#000" stroke-width="2.1" fill="none"/>
<text transform="translate(620.2,655.0) scale(1.06,1.0)" font-size="24" text-anchor="end">–3</text>
<path d="M628.3,694.6 H634.6" stroke="#000" stroke-width="2.1" fill="none"/>
<text transform="translate(620.2,702.8000000000001) scale(1.06,1.0)" font-size="24" text-anchor="end">–2</text>
<path d="M628.3,741.5 H634.6" stroke="#000" stroke-width="2.1" fill="none"/>
<text transform="translate(620.2,749.7) scale(1.06,1.0)" font-size="24" text-anchor="end">–1</text>
<path d="M628.3,790.1 H634.6" stroke="#000" stroke-width="2.1" fill="none"/>
<text transform="translate(620.2,798.3000000000001) scale(1.06,1.0)" font-size="24" text-anchor="end">0</text>
<text transform="translate(669.4,823.2) scale(1.04,1.0)" font-size="24" text-anchor="middle">Ctrl</text>
<text transform="translate(742.7,823.2) scale(1.04,1.0)" font-size="24" text-anchor="middle">RP</text>
<text transform="translate(574,672.8) rotate(-90) scale(1.03,1)" font-size="25" text-anchor="middle">AHP (mV)</text>
</g>
</svg>
</body></html>
